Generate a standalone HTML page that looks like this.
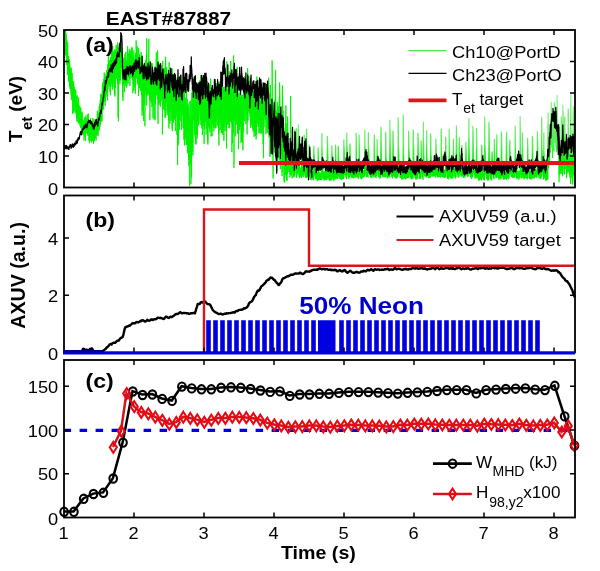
<!DOCTYPE html>
<html lang="en"><head><meta charset="utf-8"><title>EAST#87887</title>
<style>html,body{margin:0;padding:0;background:#fff}svg{display:block}</style></head>
<body>
<svg width="600" height="571" viewBox="0 0 600 571" font-family="'Liberation Sans', Arial, Helvetica, sans-serif" shape-rendering="auto">
<rect width="600" height="571" fill="#fff"/>
<defs>
<clipPath id="ca"><rect x="64.0" y="30.0" width="511.0" height="157.5"/></clipPath>
<clipPath id="cb"><rect x="64.0" y="195.5" width="511.0" height="157.0"/></clipPath>
<clipPath id="cc"><rect x="64.0" y="360.0" width="511.0" height="157.5"/></clipPath>
<linearGradient id="gg" gradientUnits="userSpaceOnUse" x1="0" y1="95" x2="0" y2="165"><stop offset="0" stop-color="#8cf08c"/><stop offset="0.7" stop-color="#50ee50"/><stop offset="1" stop-color="#00f000"/></linearGradient>
</defs>
<g clip-path="url(#ca)" fill="none" stroke-linejoin="round">
<polyline points="64.12,33.95 64.12,15.82 64.38,23.90 64.38,36.58 64.62,46.67 64.62,24.18 64.88,30.98 64.88,54.91 65.12,48.49 65.12,29.21 65.38,31.83 65.38,50.95 65.62,54.45 65.62,27.15 65.88,38.90 65.88,53.28 66.12,56.25 66.12,33.71 66.38,39.19 66.38,65.05 66.62,53.83 66.62,40.01 66.88,39.67 66.88,62.74 67.12,58.98 67.12,45.84 67.38,48.57 67.38,74.95 67.62,66.82 67.62,42.17 67.88,56.02 67.88,70.16 68.12,70.82 68.12,56.00 68.38,58.71 68.38,81.55 68.62,78.91 68.62,56.19 68.88,59.67 68.88,75.46 69.12,79.16 69.12,59.67 69.38,71.83 69.38,83.55 69.62,86.38 69.62,61.04 69.88,69.64 69.88,88.81 70.12,86.58 70.12,67.33 70.38,73.69 70.38,82.14 70.62,89.79 70.62,69.66 70.88,69.50 70.88,90.47 71.12,95.23 71.12,67.60 71.38,76.70 71.38,99.76 71.62,95.91 71.62,83.93 71.88,81.46 71.88,97.08 72.12,98.13 72.12,72.89 72.38,82.02 72.38,99.66 72.62,113.90 72.62,81.62 72.88,81.11 72.88,99.38 73.12,99.38 73.12,86.21 73.38,85.01 73.38,102.94 73.62,113.03 73.62,81.54 73.88,88.45 73.88,103.17 74.12,110.50 74.12,86.83 74.38,88.98 74.38,100.55 74.62,104.19 74.62,89.28 74.88,94.78 74.88,107.90 75.12,112.50 75.12,96.01 75.38,92.70 75.38,109.84 75.62,111.64 75.62,89.73 75.88,92.00 75.88,109.82 76.12,114.25 76.12,96.05 76.38,104.52 76.38,109.57 76.62,118.97 76.62,95.73 76.88,103.56 76.88,121.34 77.12,116.87 77.12,95.47 77.38,102.81 77.38,117.09 77.62,117.94 77.62,103.13 77.88,105.02 77.88,121.85 78.12,118.86 78.12,105.37 78.38,103.96 78.38,123.30 78.62,122.68 78.62,97.46 78.88,106.89 78.88,120.36 79.12,122.24 79.12,114.61 79.38,109.38 79.38,123.67 79.62,119.12 79.62,105.73 79.88,110.11 79.88,121.46 80.12,125.92 80.12,109.50 80.38,114.38 80.38,124.42 80.62,127.70 80.62,107.48 80.88,107.91 80.88,124.17 81.12,127.88 81.12,115.60 81.38,112.70 81.38,135.41 81.62,131.53 81.62,113.53 81.88,121.50 81.88,127.11 82.12,125.53 82.12,111.66 82.38,118.43 82.38,127.10 82.62,129.85 82.62,121.10 82.88,123.46 82.88,134.99 83.12,131.22 83.12,123.48 83.38,121.85 83.38,134.05 83.62,129.27 83.62,122.13 83.88,120.25 83.88,134.80 84.12,140.34 84.12,119.68 84.38,117.26 84.38,133.83 84.62,131.07 84.62,121.55 84.88,121.81 84.88,136.15 85.12,136.33 85.12,124.25 85.38,122.05 85.38,138.75 85.62,141.07 85.62,117.66 85.88,115.81 85.88,129.57 86.12,131.01 86.12,117.80 86.38,119.70 86.38,132.95 86.62,133.31 86.62,119.48 86.88,122.19 86.88,130.50 87.12,129.37 87.12,114.27 87.38,115.40 87.38,131.08 87.62,134.61 87.62,122.20 87.88,122.53 87.88,131.64 88.12,136.03 88.12,120.43 88.38,113.65 88.38,133.09 88.62,131.84 88.62,119.17 88.88,125.95 88.88,140.58 89.12,139.73 89.12,128.86 89.38,120.31 89.38,143.22 89.62,141.26 89.62,128.80 89.88,129.50 89.88,140.19 90.12,134.85 90.12,120.64 90.38,130.30 90.38,136.72 90.62,136.45 90.62,118.21 90.88,122.31 90.88,134.33 91.12,141.51 91.12,122.83 91.38,127.18 91.38,142.33 91.62,138.67 91.62,121.81 91.88,126.76 91.88,141.27 92.12,131.14 92.12,123.80 92.38,128.57 92.38,139.10 92.62,140.92 92.62,123.04 92.88,118.05 92.88,135.76 93.12,139.08 93.12,128.23 93.38,131.25 93.38,143.77 93.62,141.90 93.62,128.30 93.88,125.76 93.88,139.44 94.12,136.59 94.12,119.21 94.38,125.68 94.38,141.27 94.62,137.50 94.62,120.46 94.88,122.44 94.88,137.04 95.12,138.28 95.12,130.57 95.38,125.48 95.38,137.46 95.62,131.71 95.62,119.04 95.88,121.54 95.88,136.85 96.12,140.52 96.12,123.23 96.38,120.75 96.38,131.73 96.62,135.34 96.62,119.54 96.88,119.14 96.88,129.56 97.12,128.45 97.12,123.66 97.38,110.69 97.38,128.99 97.62,135.43 97.62,112.24 97.88,116.29 97.88,123.51 98.12,135.77 98.12,115.97 98.38,114.79 98.38,131.05 98.62,121.70 98.62,113.25 98.88,112.93 98.88,125.17 99.12,122.67 99.12,106.37 99.38,115.22 99.38,128.44 99.62,130.56 99.62,113.09 99.88,103.68 99.88,127.12 100.12,122.38 100.12,100.87 100.38,100.14 100.38,118.43 100.62,124.31 100.62,105.81 100.88,93.79 100.88,116.51 101.12,117.56 101.12,102.03 101.38,94.13 101.38,121.45 101.62,115.80 101.62,95.30 101.88,102.92 101.88,121.59 102.12,119.38 102.12,97.14 102.38,84.86 102.38,110.44 102.62,102.32 102.62,82.49 102.88,92.94 102.88,105.54 103.12,97.59 103.12,88.81 103.38,85.36 103.38,103.30 103.62,109.44 103.62,85.29 103.88,78.91 103.88,101.71 104.12,94.40 104.12,72.70 104.38,72.73 104.38,97.82 104.62,101.19 104.62,81.39 104.88,85.63 104.88,97.18 105.12,105.89 105.12,77.13 105.38,87.17 105.38,101.75 105.62,93.66 105.62,79.92 105.88,74.03 105.88,94.07 106.12,96.67 106.12,76.72 106.38,75.33 106.38,89.54 106.62,94.52 106.62,70.34 106.88,74.08 106.88,94.76 107.12,82.04 107.12,72.22 107.38,75.25 107.38,94.09 107.62,100.39 107.62,71.25 107.88,64.03 107.88,88.58 108.12,89.17 108.12,72.48 108.38,55.03 108.38,84.05 108.62,82.14 108.62,65.05 108.88,62.66 108.88,79.19 109.12,86.08 109.12,61.23 109.38,60.98 109.38,80.51 109.62,85.80 109.62,60.07 109.88,63.18 109.88,84.56 110.12,92.06 110.12,64.60 110.38,70.62 110.38,95.25 110.62,83.20 110.62,57.19 110.88,62.47 110.88,81.84 111.12,84.06 111.12,68.12 111.38,53.45 111.38,82.39 111.62,71.83 111.62,49.78 111.88,51.39 111.88,68.36 112.12,86.57 112.12,61.98 112.38,48.16 112.38,86.78 112.62,89.67 112.62,46.08 112.88,53.88 112.88,78.42 113.12,87.52 113.12,69.72 113.38,55.65 113.38,78.08 113.62,82.29 113.62,57.42 113.88,50.87 113.88,79.53 114.12,74.56 114.12,64.28 114.38,72.59 114.38,83.64 114.62,94.93 114.62,70.80 114.88,49.24 114.88,96.49 115.12,80.97 115.12,65.27 115.38,50.43 115.38,87.83 115.62,81.81 115.62,59.40 115.88,63.07 115.88,77.64 116.12,74.94 116.12,45.38 116.38,60.97 116.38,77.73 116.62,69.85 116.62,51.94 116.88,45.14 116.88,79.09 117.12,75.79 117.12,64.14 117.38,52.12 117.38,81.74 117.62,84.23 117.62,42.44 117.88,57.80 117.88,84.91 118.12,117.49 118.12,81.36 118.38,73.19 118.38,121.38 118.62,90.59 118.62,57.82 118.88,47.15 118.88,69.90 119.12,75.17 119.12,59.01 119.38,55.09 119.38,80.83 119.62,69.62 119.62,46.97 119.88,65.51 119.88,84.27 120.12,74.67 120.12,57.53 120.38,49.91 120.38,68.14 120.62,80.48 120.62,51.12 120.88,44.65 120.88,67.50 121.12,67.78 121.12,51.56 121.38,47.83 121.38,66.10 121.62,61.94 121.62,37.89 121.88,45.56 121.88,68.65 122.12,74.19 122.12,48.34 122.38,55.67 122.38,76.37 122.62,97.16 122.62,74.45 122.88,77.09 122.88,100.90 123.12,85.63 123.12,60.19 123.38,61.52 123.38,77.37 123.62,84.74 123.62,57.71 123.88,59.95 123.88,72.51 124.12,84.18 124.12,66.61 124.38,66.35 124.38,91.02 124.62,92.13 124.62,64.50 124.88,54.30 124.88,80.98 125.12,85.98 125.12,58.42 125.38,61.38 125.38,82.60 125.62,81.98 125.62,52.04 125.88,60.28 125.88,79.81 126.12,83.49 126.12,61.85 126.38,60.38 126.38,76.81 126.62,87.59 126.62,60.68 126.88,60.82 126.88,85.91 127.12,80.61 127.12,52.47 127.38,50.89 127.38,73.04 127.62,76.77 127.62,46.26 127.88,56.39 127.88,74.09 128.12,83.92 128.12,61.90 128.38,61.66 128.38,77.63 128.62,75.65 128.62,53.31 128.88,58.35 128.88,67.62 129.12,71.54 129.12,52.52 129.38,50.28 129.38,78.52 129.62,73.73 129.62,48.99 129.88,60.99 129.88,85.96 130.12,78.83 130.12,54.90 130.38,54.77 130.38,71.20 130.62,75.37 130.62,64.65 130.88,51.30 130.88,72.95 131.12,69.49 131.12,50.47 131.38,48.51 131.38,76.23 131.62,77.81 131.62,55.72 131.88,46.88 131.88,73.04 132.12,67.55 132.12,48.36 132.38,61.64 132.38,79.71 132.62,75.93 132.62,54.36 132.88,76.03 132.88,93.18 133.12,85.98 133.12,69.42 133.38,57.00 133.38,81.65 133.62,84.24 133.62,56.32 133.88,50.47 133.88,90.75 134.12,83.74 134.12,64.99 134.38,65.80 134.38,86.41 134.62,87.41 134.62,60.05 134.88,58.52 134.88,77.38 135.12,85.06 135.12,60.96 135.38,53.15 135.38,93.69 135.62,80.13 135.62,58.82 135.88,54.75 135.88,78.95 136.12,79.06 136.12,40.32 136.38,56.31 136.38,77.21 136.62,77.88 136.62,49.84 136.88,49.74 136.88,75.35 137.12,75.37 137.12,46.26 137.38,49.03 137.38,84.26 137.62,76.33 137.62,57.99 137.88,57.43 137.88,80.47 138.12,84.23 138.12,62.17 138.38,61.21 138.38,96.11 138.62,83.92 138.62,48.30 138.88,57.15 138.88,80.15 139.12,81.60 139.12,60.00 139.38,56.09 139.38,65.26 139.62,88.23 139.62,54.02 139.88,60.80 139.88,86.51 140.12,87.03 140.12,73.49 140.38,57.54 140.38,89.47 140.62,90.88 140.62,69.35 140.88,65.11 140.88,88.90 141.12,88.48 141.12,52.13 141.38,58.98 141.38,94.13 141.62,95.09 141.62,67.91 141.88,55.74 141.88,93.86 142.12,115.58 142.12,84.59 142.38,70.38 142.38,99.18 142.62,110.93 142.62,68.89 142.88,79.89 142.88,104.11 143.12,97.89 143.12,69.53 143.38,64.33 143.38,101.01 143.62,121.08 143.62,90.76 143.88,73.71 143.88,95.97 144.12,96.45 144.12,68.72 144.38,68.89 144.38,92.13 144.62,104.91 144.62,73.59 144.88,86.93 144.88,126.27 145.12,87.76 145.12,76.65 145.38,71.68 145.38,90.72 145.62,89.41 145.62,67.09 145.88,59.88 145.88,85.22 146.12,94.62 146.12,76.80 146.38,54.29 146.38,95.01 146.62,105.42 146.62,38.12 146.88,41.97 146.88,88.31 147.12,92.19 147.12,64.33 147.38,73.12 147.38,85.11 147.62,94.46 147.62,71.77 147.88,74.28 147.88,95.82 148.12,87.10 148.12,73.84 148.38,75.20 148.38,91.31 148.62,94.10 148.62,57.30 148.88,38.90 148.88,70.68 149.12,90.80 149.12,60.72 149.38,62.46 149.38,79.95 149.62,99.60 149.62,77.56 149.88,64.47 149.88,120.34 150.12,91.84 150.12,70.49 150.38,76.95 150.38,96.35 150.62,100.98 150.62,73.36 150.88,72.65 150.88,88.40 151.12,82.94 151.12,72.87 151.38,70.25 151.38,103.23 151.62,98.98 151.62,63.73 151.88,81.60 151.88,107.16 152.12,104.49 152.12,63.20 152.38,67.54 152.38,104.73 152.62,103.27 152.62,84.33 152.88,77.79 152.88,114.81 153.12,118.40 153.12,86.48 153.38,76.80 153.38,96.26 153.62,96.48 153.62,73.45 153.88,79.15 153.88,103.33 154.12,119.17 154.12,78.52 154.38,71.89 154.38,95.97 154.62,101.38 154.62,78.11 154.88,67.49 154.88,100.88 155.12,120.38 155.12,89.14 155.38,81.68 155.38,104.40 155.62,99.38 155.62,80.22 155.88,70.03 155.88,95.39 156.12,95.74 156.12,58.34 156.38,52.36 156.38,93.91 156.62,94.88 156.62,65.78 156.88,66.53 156.88,88.48 157.12,93.77 157.12,60.68 157.38,74.02 157.38,98.96 157.62,92.04 157.62,50.25 157.88,88.39 157.88,110.70 158.12,123.75 158.12,88.16 158.38,61.25 158.38,104.56 158.62,95.50 158.62,75.12 158.88,62.93 158.88,93.83 159.12,96.74 159.12,76.61 159.38,67.96 159.38,103.15 159.62,101.94 159.62,79.04 159.88,69.14 159.88,102.70 160.12,105.53 160.12,78.31 160.38,82.04 160.38,106.78 160.62,97.03 160.62,78.90 160.88,65.07 160.88,94.15 161.12,94.29 161.12,65.63 161.38,71.66 161.38,96.30 161.62,98.30 161.62,66.93 161.88,73.22 161.88,101.16 162.12,94.98 162.12,75.23 162.38,75.63 162.38,134.49 162.62,103.36 162.62,60.93 162.88,80.08 162.88,106.53 163.12,104.56 163.12,80.37 163.38,78.10 163.38,109.39 163.62,96.04 163.62,74.44 163.88,68.89 163.88,95.75 164.12,96.96 164.12,71.19 164.38,74.86 164.38,110.71 164.62,94.63 164.62,68.38 164.88,81.19 164.88,93.25 165.12,118.02 165.12,73.11 165.38,62.83 165.38,117.19 165.62,81.19 165.62,56.90 165.88,74.08 165.88,102.68 166.12,96.87 166.12,79.82 166.38,80.00 166.38,101.92 166.62,91.57 166.62,67.16 166.88,75.22 166.88,99.38 167.12,115.17 167.12,80.44 167.38,85.99 167.38,112.32 167.62,96.55 167.62,74.59 167.88,84.27 167.88,109.13 168.12,110.20 168.12,77.03 168.38,93.92 168.38,120.34 168.62,119.49 168.62,90.41 168.88,88.25 168.88,128.50 169.12,93.50 169.12,62.24 169.38,79.93 169.38,95.61 169.62,111.56 169.62,87.14 169.88,72.22 169.88,123.55 170.12,109.16 170.12,75.95 170.38,92.47 170.38,103.90 170.62,111.60 170.62,80.06 170.88,74.35 170.88,120.99 171.12,113.38 171.12,73.55 171.38,86.40 171.38,103.89 171.62,111.93 171.62,89.85 171.88,81.66 171.88,106.04 172.12,128.51 172.12,68.62 172.38,80.34 172.38,131.13 172.62,113.73 172.62,93.28 172.88,84.12 172.88,114.43 173.12,119.34 173.12,87.87 173.38,90.70 173.38,118.88 173.62,122.95 173.62,75.92 173.88,86.47 173.88,110.92 174.12,106.99 174.12,90.37 174.38,81.74 174.38,119.46 174.62,104.05 174.62,82.61 174.88,85.27 174.88,119.17 175.12,104.38 175.12,85.89 175.38,87.99 175.38,131.01 175.62,115.46 175.62,96.11 175.88,77.27 175.88,115.56 176.12,116.15 176.12,80.54 176.38,85.12 176.38,103.55 176.62,112.65 176.62,85.65 176.88,105.43 176.88,134.74 177.12,121.55 177.12,95.87 177.38,98.34 177.38,143.62 177.62,164.84 177.62,123.29 177.88,113.34 177.88,145.87 178.12,131.86 178.12,107.32 178.38,93.44 178.38,115.81 178.62,143.57 178.62,111.54 178.88,95.34 178.88,122.49 179.12,120.45 179.12,94.86 179.38,91.43 179.38,129.69 179.62,113.47 179.62,86.32 179.88,83.97 179.88,121.71 180.12,106.13 180.12,90.18 180.38,88.82 180.38,102.52 180.62,111.62 180.62,98.11 180.88,83.39 180.88,120.39 181.12,113.27 181.12,79.28 181.38,74.76 181.38,129.77 181.62,114.51 181.62,96.07 181.88,80.75 181.88,111.96 182.12,107.80 182.12,89.42 182.38,91.26 182.38,114.08 182.62,115.03 182.62,92.32 182.88,93.84 182.88,128.10 183.12,127.53 183.12,89.14 183.38,91.96 183.38,114.94 183.62,128.49 183.62,103.42 183.88,89.74 183.88,139.57 184.12,128.65 184.12,90.47 184.38,104.69 184.38,145.45 184.62,138.89 184.62,88.25 184.88,109.38 184.88,118.31 185.12,129.13 185.12,102.85 185.38,97.55 185.38,121.67 185.62,138.77 185.62,108.35 185.88,105.54 185.88,137.79 186.12,144.99 186.12,111.21 186.38,106.56 186.38,138.07 186.62,144.83 186.62,88.87 186.88,110.07 186.88,143.18 187.12,138.69 187.12,98.86 187.38,106.20 187.38,153.24 187.62,140.14 187.62,104.95 187.88,106.17 187.88,142.42 188.12,144.01 188.12,103.62 188.38,116.88 188.38,146.30 188.62,159.69 188.62,107.72 188.88,132.68 188.88,166.14 189.12,147.56 189.12,115.54 189.38,123.94 189.38,180.42 189.62,185.93 189.62,141.43 189.88,101.06 189.88,148.40 190.12,156.87 190.12,119.23 190.38,127.22 190.38,163.75 190.62,147.24 190.62,100.70 190.88,114.89 190.88,184.15 191.12,176.77 191.12,152.30 191.38,117.19 191.38,151.26 191.62,176.85 191.62,135.42 191.88,93.12 191.88,144.51 192.12,132.71 192.12,92.31 192.38,86.63 192.38,151.65 192.62,148.15 192.62,92.68 192.88,110.55 192.88,155.65 193.12,144.40 193.12,103.97 193.38,103.35 193.38,120.53 193.62,120.22 193.62,91.93 193.88,91.69 193.88,115.54 194.12,120.93 194.12,90.01 194.38,99.21 194.38,126.13 194.62,134.18 194.62,109.58 194.88,100.63 194.88,131.00 195.12,136.49 195.12,78.12 195.38,96.29 195.38,143.67 195.62,129.35 195.62,100.31 195.88,109.34 195.88,130.39 196.12,144.62 196.12,101.98 196.38,108.36 196.38,127.33 196.62,134.74 196.62,108.84 196.88,88.22 196.88,121.00 197.12,138.61 197.12,95.68 197.38,94.21 197.38,135.03 197.62,130.29 197.62,99.70 197.88,100.78 197.88,124.27 198.12,115.53 198.12,83.76 198.38,82.66 198.38,125.62 198.62,122.64 198.62,94.09 198.88,91.85 198.88,123.91 199.12,114.16 199.12,88.83 199.38,86.59 199.38,108.29 199.62,107.64 199.62,88.35 199.88,80.47 199.88,109.86 200.12,116.13 200.12,85.16 200.38,92.09 200.38,120.59 200.62,118.02 200.62,75.23 200.88,90.65 200.88,124.91 201.12,117.50 201.12,95.64 201.38,89.24 201.38,113.90 201.62,125.72 201.62,83.68 201.88,83.55 201.88,128.41 202.12,115.63 202.12,96.33 202.38,92.77 202.38,135.06 202.62,130.57 202.62,98.24 202.88,93.02 202.88,116.34 203.12,125.81 203.12,101.65 203.38,85.39 203.38,123.69 203.62,124.09 203.62,98.69 203.88,94.19 203.88,120.64 204.12,143.90 204.12,102.61 204.38,115.23 204.38,129.19 204.62,122.95 204.62,104.72 204.88,91.13 204.88,108.76 205.12,116.21 205.12,102.40 205.38,98.62 205.38,117.61 205.62,121.94 205.62,82.38 205.88,93.94 205.88,118.83 206.12,134.64 206.12,107.96 206.38,84.34 206.38,116.66 206.62,128.42 206.62,91.84 206.88,85.67 206.88,123.28 207.12,121.38 207.12,101.03 207.38,81.10 207.38,121.79 207.62,142.36 207.62,107.01 207.88,105.03 207.88,144.55 208.12,126.00 208.12,99.37 208.38,90.36 208.38,124.18 208.62,125.70 208.62,90.60 208.88,89.66 208.88,127.25 209.12,111.77 209.12,94.98 209.38,95.15 209.38,128.49 209.62,120.51 209.62,100.08 209.88,84.24 209.88,132.16 210.12,114.26 210.12,90.96 210.38,85.46 210.38,119.54 210.62,115.21 210.62,78.54 210.88,87.87 210.88,121.68 211.12,136.54 211.12,107.32 211.38,99.93 211.38,128.29 211.62,106.80 211.62,93.45 211.88,89.20 211.88,127.07 212.12,136.09 212.12,90.11 212.38,95.22 212.38,124.84 212.62,122.48 212.62,97.01 212.88,98.97 212.88,122.11 213.12,119.75 213.12,89.47 213.38,104.43 213.38,127.26 213.62,124.75 213.62,95.93 213.88,105.23 213.88,131.25 214.12,121.77 214.12,102.64 214.38,99.81 214.38,127.43 214.62,112.26 214.62,100.53 214.88,96.19 214.88,121.97 215.12,114.77 215.12,90.39 215.38,93.52 215.38,119.38 215.62,128.39 215.62,94.76 215.88,104.08 215.88,127.65 216.12,123.13 216.12,92.20 216.38,94.95 216.38,113.84 216.62,117.49 216.62,93.07 216.88,82.99 216.88,125.67 217.12,121.50 217.12,92.20 217.38,86.38 217.38,108.95 217.62,117.25 217.62,93.15 217.88,88.57 217.88,116.82 218.12,125.66 218.12,93.25 218.38,96.42 218.38,118.38 218.62,133.75 218.62,98.83 218.88,114.05 218.88,145.35 219.12,114.58 219.12,89.24 219.38,82.43 219.38,115.77 219.62,110.75 219.62,86.29 219.88,83.23 219.88,129.90 220.12,118.23 220.12,81.18 220.38,97.37 220.38,122.10 220.62,122.56 220.62,100.51 220.88,98.81 220.88,116.24 221.12,130.25 221.12,101.38 221.38,88.52 221.38,133.11 221.62,123.88 221.62,98.48 221.88,86.19 221.88,128.14 222.12,132.00 222.12,82.82 222.38,92.25 222.38,132.93 222.62,115.47 222.62,90.19 222.88,96.94 222.88,134.94 223.12,130.88 223.12,88.60 223.38,99.37 223.38,127.87 223.62,123.28 223.62,87.10 223.88,105.38 223.88,140.87 224.12,121.99 224.12,86.73 224.38,90.66 224.38,126.49 224.62,123.48 224.62,104.87 224.88,90.51 224.88,130.67 225.12,124.63 225.12,91.31 225.38,90.65 225.38,106.71 225.62,121.19 225.62,85.35 225.88,86.19 225.88,121.46 226.12,131.38 226.12,114.79 226.38,100.14 226.38,119.34 226.62,148.55 226.62,86.57 226.88,61.34 226.88,114.60 227.12,125.02 227.12,95.65 227.38,90.85 227.38,123.59 227.62,124.40 227.62,102.25 227.88,88.73 227.88,113.46 228.12,123.61 228.12,93.43 228.38,80.70 228.38,117.36 228.62,120.53 228.62,99.98 228.88,97.11 228.88,128.06 229.12,119.39 229.12,94.49 229.38,71.44 229.38,104.75 229.62,128.23 229.62,93.53 229.88,96.98 229.88,119.28 230.12,119.81 230.12,94.29 230.38,93.72 230.38,121.94 230.62,116.39 230.62,61.03 230.88,62.74 230.88,110.82 231.12,118.11 231.12,91.98 231.38,87.09 231.38,106.74 231.62,123.81 231.62,79.71 231.88,87.26 231.88,152.16 232.12,137.72 232.12,119.38 232.38,103.67 232.38,143.22 232.62,113.33 232.62,85.24 232.88,95.10 232.88,128.49 233.12,115.07 233.12,80.17 233.38,93.59 233.38,133.33 233.62,87.15 233.62,55.50 233.88,87.80 233.88,167.92 234.12,159.78 234.12,130.93 234.38,92.04 234.38,120.53 234.62,110.68 234.62,89.12 234.88,71.41 234.88,108.78 235.12,107.23 235.12,95.36 235.38,94.73 235.38,136.32 235.62,110.59 235.62,84.83 235.88,86.62 235.88,125.05 236.12,107.15 236.12,94.88 236.38,88.84 236.38,115.83 236.62,109.79 236.62,91.64 236.88,85.36 236.88,123.58 237.12,96.49 237.12,66.82 237.38,90.84 237.38,133.92 237.62,119.19 237.62,88.50 237.88,90.28 237.88,133.31 238.12,114.63 238.12,95.39 238.38,101.66 238.38,149.20 238.62,131.70 238.62,101.32 238.88,92.67 238.88,126.45 239.12,114.70 239.12,102.73 239.38,104.01 239.38,127.30 239.62,130.13 239.62,104.74 239.88,94.28 239.88,123.40 240.12,126.77 240.12,97.76 240.38,89.73 240.38,123.93 240.62,117.71 240.62,98.43 240.88,97.60 240.88,126.27 241.12,142.72 241.12,101.76 241.38,121.41 241.38,141.89 241.62,121.17 241.62,94.77 241.88,96.12 241.88,122.70 242.12,125.60 242.12,94.94 242.38,97.32 242.38,135.27 242.62,142.39 242.62,123.52 242.88,109.14 242.88,150.32 243.12,130.22 243.12,104.53 243.38,94.20 243.38,131.23 243.62,117.98 243.62,85.62 243.88,97.81 243.88,121.35 244.12,118.11 244.12,97.14 244.38,80.43 244.38,108.87 244.62,109.12 244.62,83.31 244.88,76.05 244.88,121.14 245.12,110.98 245.12,87.18 245.38,87.77 245.38,113.26 245.62,105.77 245.62,80.62 245.88,90.47 245.88,124.15 246.12,111.51 246.12,86.71 246.38,89.60 246.38,112.52 246.62,113.29 246.62,86.80 246.88,86.58 246.88,111.28 247.12,134.33 247.12,93.15 247.38,86.31 247.38,120.36 247.62,121.62 247.62,68.01 247.88,93.40 247.88,120.58 248.12,113.67 248.12,91.60 248.38,79.03 248.38,111.87 248.62,105.82 248.62,89.76 248.88,76.00 248.88,112.02 249.12,105.84 249.12,88.09 249.38,83.01 249.38,113.13 249.62,111.78 249.62,80.94 249.88,88.27 249.88,114.72 250.12,116.81 250.12,99.28 250.38,84.15 250.38,118.01 250.62,127.95 250.62,95.20 250.88,91.14 250.88,121.06 251.12,114.86 251.12,92.72 251.38,96.48 251.38,124.77 251.62,117.19 251.62,95.39 251.88,90.09 251.88,125.43 252.12,126.56 252.12,86.30 252.38,92.91 252.38,111.91 252.62,128.44 252.62,89.42 252.88,100.65 252.88,123.11 253.12,131.40 253.12,92.64 253.38,91.02 253.38,130.02 253.62,117.48 253.62,92.13 253.88,100.05 253.88,122.78 254.12,136.82 254.12,102.13 254.38,104.07 254.38,128.41 254.62,129.48 254.62,103.25 254.88,103.82 254.88,132.34 255.12,126.25 255.12,104.06 255.38,96.04 255.38,136.03 255.62,121.29 255.62,88.57 255.88,91.06 255.88,121.21 256.12,139.42 256.12,89.98 256.38,91.44 256.38,126.80 256.62,134.62 256.62,88.14 256.88,76.60 256.88,119.10 257.12,121.31 257.12,100.88 257.38,87.69 257.38,117.79 257.62,123.25 257.62,92.09 257.88,101.07 257.88,113.76 258.12,126.87 258.12,90.53 258.38,100.20 258.38,124.19 258.62,124.58 258.62,93.96 258.88,86.21 258.88,133.21 259.12,120.37 259.12,104.77 259.38,92.99 259.38,123.52 259.62,116.24 259.62,102.04 259.88,88.86 259.88,132.48 260.12,126.41 260.12,106.43 260.38,107.13 260.38,133.62 260.62,128.28 260.62,105.30 260.88,100.56 260.88,117.81 261.12,110.95 261.12,87.44 261.38,108.87 261.38,132.17 261.62,129.47 261.62,96.34 261.88,104.19 261.88,133.81 262.12,128.30 262.12,93.45 262.38,93.47 262.38,120.04 262.62,119.02 262.62,98.05 262.88,105.41 262.88,124.98 263.12,144.25 263.12,97.20 263.38,112.47 263.38,158.21 263.62,137.51 263.62,104.98 263.88,100.91 263.88,122.19 264.12,126.78 264.12,101.05 264.38,90.45 264.38,111.40 264.62,117.42 264.62,88.95 264.88,94.78 264.88,115.59 265.12,116.26 265.12,88.29 265.38,94.43 265.38,111.55 265.62,119.94 265.62,101.31 265.88,101.07 265.88,134.19 266.12,129.89 266.12,91.48 266.38,87.20 266.38,127.76 266.62,127.11 266.62,89.33 266.88,88.68 266.88,125.17 267.12,132.34 267.12,91.54 267.38,96.00 267.38,125.26 267.62,121.21 267.62,87.21 267.88,101.88 267.88,130.19 268.12,133.15 268.12,94.98 268.38,86.53 268.38,114.49 268.62,115.22 268.62,77.69 268.88,105.36 268.88,135.76 269.12,137.50 269.12,93.68 269.38,113.88 269.38,133.17 269.62,123.30 269.62,98.66 269.88,94.27 269.88,156.86 270.12,137.88 270.12,101.09 270.38,84.92 270.38,134.63 270.62,141.92 270.62,105.99 270.88,107.22 270.88,154.99 271.12,142.00 271.12,116.02 271.38,106.49 271.38,144.13 271.62,134.11 271.62,108.07 271.88,106.06 271.88,128.05 272.12,114.56 272.12,60.54 272.38,105.28 272.38,140.67 272.62,153.89 272.62,117.98 272.88,137.11 272.88,158.35 273.12,178.42 273.12,123.79 273.38,107.38 273.38,148.69 273.62,148.49 273.62,112.38 273.88,104.90 273.88,145.73 274.12,151.58 274.12,101.34 274.38,109.09 274.38,149.97 274.62,131.41 274.62,114.49 274.88,100.12 274.88,140.17 275.12,152.74 275.12,111.26 275.38,83.67 275.38,137.41 275.62,129.10 275.62,69.95 275.88,117.19 275.88,159.47 276.12,148.29 276.12,119.80 276.38,110.71 276.38,165.13 276.62,155.70 276.62,123.40 276.88,115.03 276.88,171.17 277.12,146.32 277.12,112.34 277.38,102.06 277.38,157.21 277.62,143.53 277.62,117.39 277.88,108.66 277.88,140.59 278.12,156.51 278.12,121.39 278.38,106.16 278.38,147.08 278.62,130.13 278.62,116.82 278.88,116.89 278.88,151.13 279.12,160.61 279.12,106.95 279.38,96.44 279.38,144.75 279.62,148.44 279.62,82.44 279.88,100.78 279.88,132.02 280.12,148.86 280.12,128.72 280.38,132.83 280.38,169.17 280.62,155.11 280.62,127.72 280.88,114.78 280.88,156.60 281.12,161.45 281.12,114.50 281.38,133.83 281.38,153.44 281.62,155.19 281.62,134.55 281.88,137.78 281.88,156.44 282.12,176.13 282.12,134.27 282.38,85.62 282.38,172.02 282.62,137.81 282.62,96.78 282.88,113.36 282.88,144.93 283.12,147.87 283.12,110.73 283.38,141.89 283.38,165.26 283.62,155.17 283.62,123.73 283.88,139.47 283.88,173.25 284.12,181.90 284.12,140.27 284.38,147.41 284.38,172.68 284.62,182.67 284.62,146.49 284.88,138.04 284.88,177.51 285.12,173.55 285.12,141.90 285.38,151.35 285.38,169.23 285.62,174.20 285.62,125.81 285.88,105.41 285.88,136.88 286.12,154.26 286.12,123.37 286.38,143.09 286.38,171.66 286.62,180.29 286.62,135.05 286.88,145.96 286.88,176.14 287.12,180.63 287.12,156.15 287.38,116.55 287.38,174.13 287.62,156.81 287.62,117.30 287.88,142.73 287.88,167.19 288.12,165.09 288.12,149.61 288.38,151.89 288.38,170.04 288.62,170.22 288.62,154.53 288.88,152.51 288.88,172.11 289.12,167.39 289.12,151.65 289.38,159.84 289.38,171.98 289.62,171.86 289.62,156.21 289.88,158.21 289.88,177.38 290.12,175.86 290.12,164.42 290.38,167.24 290.38,174.47 290.62,153.41 290.62,95.95 290.88,126.14 290.88,145.42 291.12,168.59 291.12,147.99 291.38,157.29 291.38,168.73 291.62,175.52 291.62,163.67 291.88,165.10 291.88,176.15 292.12,178.23 292.12,163.78 292.38,130.27 292.38,149.29 292.62,160.71 292.62,138.51 292.88,156.37 292.88,168.66 293.12,173.88 293.12,159.67 293.38,167.01 293.38,177.09 293.62,172.86 293.62,165.81 293.88,168.17 293.88,177.47 294.12,173.75 294.12,167.45 294.38,164.02 294.38,176.17 294.62,173.36 294.62,167.77 294.88,131.97 294.88,172.61 295.12,146.12" stroke="#00f000" stroke-width="0.9"/>
<polyline points="295.12,146.12 295.12,129.11 295.38,147.78 295.38,162.52 295.62,170.53 295.62,160.16 295.88,163.92 295.88,171.86 296.12,176.55 296.12,166.10 296.38,136.19 296.38,177.53 296.62,148.22 296.62,128.64 296.88,146.24 296.88,158.93 297.12,164.89 297.12,155.32 297.38,162.04 297.38,169.93 297.62,173.52 297.62,163.12 297.88,164.32 297.88,171.88 298.12,175.63 298.12,166.04 298.38,125.01 298.38,168.99 298.62,153.22 298.62,137.71 298.88,158.48 298.88,168.62 299.12,172.39 299.12,164.25 299.38,165.95 299.38,173.04 299.62,177.70 299.62,166.24 299.88,168.80 299.88,173.95 300.12,175.18 300.12,169.26 300.38,168.33 300.38,176.44 300.62,174.59 300.62,171.58 300.88,169.23 300.88,176.78 301.12,175.52 301.12,169.81 301.38,170.29 301.38,171.35 301.62,177.43 301.62,160.89 301.88,142.28 301.88,155.35 302.12,166.27 302.12,152.97 302.38,163.08 302.38,172.63 302.62,174.35 302.62,166.15 302.88,169.18 302.88,175.23 303.12,176.33 303.12,168.64 303.38,169.94 303.38,176.55 303.62,176.40 303.62,170.29 303.88,158.51 303.88,175.68 304.12,143.74 304.12,135.08 304.38,138.62 304.38,162.70 304.62,171.30 304.62,161.35 304.88,167.59 304.88,171.73 305.12,173.81 305.12,168.12 305.38,168.73 305.38,176.83 305.62,177.44 305.62,171.81 305.88,172.44 305.88,177.51 306.12,177.09 306.12,170.83 306.38,136.17 306.38,177.70 306.62,150.37 306.62,129.19 306.88,151.01 306.88,164.84 307.12,173.32 307.12,162.74 307.38,166.49 307.38,173.86 307.62,176.85 307.62,170.38 307.88,169.88 307.88,176.31 308.12,177.04 308.12,171.90 308.38,170.45 308.38,175.96 308.62,176.56 308.62,171.54 308.88,170.22 308.88,176.22 309.12,166.57 309.12,144.71 309.38,151.26 309.38,164.88 309.62,171.62 309.62,163.63 309.88,167.27 309.88,175.16 310.12,177.16 310.12,171.56 310.38,173.65 310.38,179.13 310.62,176.72 310.62,170.81 310.88,172.83 310.88,176.79 311.12,178.60 311.12,171.63 311.38,170.96 311.38,178.01 311.62,176.85 311.62,173.27 311.88,172.06 311.88,179.89 312.12,178.96 312.12,172.60 312.38,172.55 312.38,177.81 312.62,177.43 312.62,172.55 312.88,172.82 312.88,177.65 313.12,175.10 313.12,171.19 313.38,172.88 313.38,178.26 313.62,179.96 313.62,153.97 313.88,146.17 313.88,156.10 314.12,164.16 314.12,154.09 314.38,161.78 314.38,169.42 314.62,173.85 314.62,167.84 314.88,169.99 314.88,175.46 315.12,176.85 315.12,170.05 315.38,171.25 315.38,178.66 315.62,177.66 315.62,172.68 315.88,171.92 315.88,178.40 316.12,178.62 316.12,171.90 316.38,172.49 316.38,177.42 316.62,178.78 316.62,171.93 316.88,172.61 316.88,177.48 317.12,179.99 317.12,174.74 317.38,173.34 317.38,179.45 317.62,179.93 317.62,172.80 317.88,173.52 317.88,180.39 318.12,169.62 318.12,147.87 318.38,157.83 318.38,166.64 318.62,174.18 318.62,165.24 318.88,171.84 318.88,175.54 319.12,179.79 319.12,172.57 319.38,172.56 319.38,179.55 319.62,178.16 319.62,173.24 319.88,175.73 319.88,179.52 320.12,178.96 320.12,174.24 320.38,173.60 320.38,177.63 320.62,176.82 320.62,172.99 320.88,174.88 320.88,179.54 321.12,178.79 321.12,172.50 321.38,175.41 321.38,179.51 321.62,179.63 321.62,173.23 321.88,133.22 321.88,170.37 322.12,157.56 322.12,148.46 322.38,161.27 322.38,168.02 322.62,176.01 322.62,168.81 322.88,168.30 322.88,176.62 323.12,178.59 323.12,171.26 323.38,171.97 323.38,176.98 323.62,178.68 323.62,172.10 323.88,172.37 323.88,179.23 324.12,180.17 324.12,171.71 324.38,171.75 324.38,179.08 324.62,180.08 324.62,172.43 324.88,173.78 324.88,179.23 325.12,178.81 325.12,171.09 325.38,172.53 325.38,178.34 325.62,177.78 325.62,174.54 325.88,171.47 325.88,178.99 326.12,179.75 326.12,172.69 326.38,172.44 326.38,179.67 326.62,178.59 326.62,171.31 326.88,171.80 326.88,179.56 327.12,175.50 327.12,172.01 327.38,136.29 327.38,177.74 327.62,153.59 327.62,140.05 327.88,156.83 327.88,169.48 328.12,172.99 328.12,166.44 328.38,169.37 328.38,177.32 328.62,178.79 328.62,170.73 328.88,172.24 328.88,177.84 329.12,179.49 329.12,173.27 329.38,175.03 329.38,180.22 329.62,180.39 329.62,172.78 329.88,173.37 329.88,179.85 330.12,180.19 330.12,172.31 330.38,173.95 330.38,179.48 330.62,180.29 330.62,174.44 330.88,174.15 330.88,179.82 331.12,179.29 331.12,173.97 331.38,172.54 331.38,179.46 331.62,179.20 331.62,173.32 331.88,145.71 331.88,179.92 332.12,164.45 332.12,153.41 332.38,162.67 332.38,167.81 332.62,174.65 332.62,166.75 332.88,170.77 332.88,176.41 333.12,177.70 333.12,171.12 333.38,171.85 333.38,178.58 333.62,179.74 333.62,174.54 333.88,171.69 333.88,180.84 334.12,177.88 334.12,171.79 334.38,172.03 334.38,177.31 334.62,177.90 334.62,171.78 334.88,171.71 334.88,176.31 335.12,179.04 335.12,170.55 335.38,167.47 335.38,178.46 335.62,159.42 335.62,145.12 335.88,157.84 335.88,169.84 336.12,175.12 336.12,166.69 336.38,172.81 336.38,177.19 336.62,177.98 336.62,172.32 336.88,172.75 336.88,178.50 337.12,177.81 337.12,171.77 337.38,171.61 337.38,178.13 337.62,177.91 337.62,172.11 337.88,173.17 337.88,178.42 338.12,172.93 338.12,146.65 338.38,146.39 338.38,161.85 338.62,168.35 338.62,157.71 338.88,168.36 338.88,173.78 339.12,176.03 339.12,168.70 339.38,172.11 339.38,178.22 339.62,178.24 339.62,171.88 339.88,172.39 339.88,178.16 340.12,177.98 340.12,171.81 340.38,171.36 340.38,178.82 340.62,177.78 340.62,172.07 340.88,171.44 340.88,177.59 341.12,177.98 341.12,171.45 341.38,173.45 341.38,179.58 341.62,176.65 341.62,172.21 341.88,171.91 341.88,178.41 342.12,178.09 342.12,172.49 342.38,172.58 342.38,178.60 342.62,177.53 342.62,170.69 342.88,172.10 342.88,179.01 343.12,177.14 343.12,171.79 343.38,171.87 343.38,175.44 343.62,178.51 343.62,171.88 343.88,139.92 343.88,177.19 344.12,155.18 344.12,146.92 344.38,153.35 344.38,163.07 344.62,168.53 344.62,162.69 344.88,167.14 344.88,171.53 345.12,174.55 345.12,168.59 345.38,168.35 345.38,174.76 345.62,174.63 345.62,168.97 345.88,172.19 345.88,176.20 346.12,177.75 346.12,169.95 346.38,170.95 346.38,178.09 346.62,178.85 346.62,154.95 346.88,133.04 346.88,146.42 347.12,159.41 347.12,145.77 347.38,157.20 347.38,166.28 347.62,173.13 347.62,166.12 347.88,167.38 347.88,174.88 348.12,175.37 348.12,170.86 348.38,172.13 348.38,175.40 348.62,178.37 348.62,170.66 348.88,173.71 348.88,175.45 349.12,177.57 349.12,170.62 349.38,170.42 349.38,177.39 349.62,176.42 349.62,170.75 349.88,144.54 349.88,176.91 350.12,154.57 350.12,143.92 350.38,157.84 350.38,167.91 350.62,171.82 350.62,164.29 350.88,166.09 350.88,174.92 351.12,174.07 351.12,168.18 351.38,171.00 351.38,177.25 351.62,175.62 351.62,169.60 351.88,169.93 351.88,177.19 352.12,176.12 352.12,170.52 352.38,172.79 352.38,177.70 352.62,175.98 352.62,169.43 352.88,169.42 352.88,175.78 353.12,175.25 353.12,170.82 353.38,169.93 353.38,177.94 353.62,175.74 353.62,168.88 353.88,170.33 353.88,175.45 354.12,176.75 354.12,170.66 354.38,170.16 354.38,177.20 354.62,177.14 354.62,170.83 354.88,171.04 354.88,176.43 355.12,176.85 355.12,172.12 355.38,170.15 355.38,176.18 355.62,177.24 355.62,170.52 355.88,170.35 355.88,177.36 356.12,159.76 356.12,133.12 356.38,147.14 356.38,164.27 356.62,167.61 356.62,162.43 356.88,165.73 356.88,171.35 357.12,176.46 357.12,168.33 357.38,169.64 357.38,176.10 357.62,177.39 357.62,170.72 357.88,172.30 357.88,176.36 358.12,176.53 358.12,173.26 358.38,170.88 358.38,174.59 358.62,178.33 358.62,170.51 358.88,166.16 358.88,176.60 359.12,151.35 359.12,135.03 359.38,146.21 359.38,159.48 359.62,170.66 359.62,159.79 359.88,168.55 359.88,172.13 360.12,174.97 360.12,168.38 360.38,167.65 360.38,175.58 360.62,178.17 360.62,172.32 360.88,170.47 360.88,176.57 361.12,178.11 361.12,170.95 361.38,169.09 361.38,177.41 361.62,178.69 361.62,172.42 361.88,170.50 361.88,176.08 362.12,177.29 362.12,173.41 362.38,172.33 362.38,177.60 362.62,177.62 362.62,173.26 362.88,172.48 362.88,176.77 363.12,176.63 363.12,170.59 363.38,170.32 363.38,175.82 363.62,176.09 363.62,170.56 363.88,172.08 363.88,176.63 364.12,176.75 364.12,169.66 364.38,169.70 364.38,176.20 364.62,175.44 364.62,169.66 364.88,130.16 364.88,164.16 365.12,166.55 365.12,146.00 365.38,162.52 365.38,169.72 365.62,173.01 365.62,165.51 365.88,170.78 365.88,174.56 366.12,174.82 366.12,171.49 366.38,169.36 366.38,176.53 366.62,176.24 366.62,171.60 366.88,171.33 366.88,176.19 367.12,172.91 367.12,170.02 367.38,169.57 367.38,175.12 367.62,176.61 367.62,169.11 367.88,169.94 367.88,176.70 368.12,177.14 368.12,170.75 368.38,132.51 368.38,163.36 368.62,156.29 368.62,147.45 368.88,154.53 368.88,165.27 369.12,169.40 369.12,160.34 369.38,164.07 369.38,173.60 369.62,173.01 369.62,167.84 369.88,168.17 369.88,174.62 370.12,175.83 370.12,170.49 370.38,170.59 370.38,176.23 370.62,176.57 370.62,169.78 370.88,169.72 370.88,177.56 371.12,177.18 371.12,170.03 371.38,169.87 371.38,177.24 371.62,176.92 371.62,171.55 371.88,169.93 371.88,176.75 372.12,177.54 372.12,170.11 372.38,169.29 372.38,175.44 372.62,175.76 372.62,169.49 372.88,170.29 372.88,174.61 373.12,175.68 373.12,170.54 373.38,169.28 373.38,173.74 373.62,176.01 373.62,169.38 373.88,169.69 373.88,176.66 374.12,176.97 374.12,142.98 374.38,134.78 374.38,155.31 374.62,166.23 374.62,155.97 374.88,164.58 374.88,170.72 375.12,174.15 375.12,167.62 375.38,169.65 375.38,176.72 375.62,176.52 375.62,170.41 375.88,169.91 375.88,177.51 376.12,177.43 376.12,169.53 376.38,170.91 376.38,175.58 376.62,175.64 376.62,171.01 376.88,156.43 376.88,171.76 377.12,152.19 377.12,139.29 377.38,155.66 377.38,162.61 377.62,169.02 377.62,162.50 377.88,167.59 377.88,172.59 378.12,174.73 378.12,169.48 378.38,169.09 378.38,175.15 378.62,176.83 378.62,169.29 378.88,170.81 378.88,175.44 379.12,175.09 379.12,171.68 379.38,170.20 379.38,173.97 379.62,176.77 379.62,170.59 379.88,170.49 379.88,178.23 380.12,178.03 380.12,170.14 380.38,170.76 380.38,177.65 380.62,177.65 380.62,170.19 380.88,126.95 380.88,171.86 381.12,150.46 381.12,127.95 381.38,153.80 381.38,167.50 381.62,170.47 381.62,165.15 381.88,167.50 381.88,175.25 382.12,174.37 382.12,168.77 382.38,170.52 382.38,175.45 382.62,176.09 382.62,171.76 382.88,171.90 382.88,175.91 383.12,176.96 383.12,170.10 383.38,169.62 383.38,176.66 383.62,175.42 383.62,172.61 383.88,170.11 383.88,175.59 384.12,176.67 384.12,169.16 384.38,170.21 384.38,176.25 384.62,176.06 384.62,169.62 384.88,169.64 384.88,176.59 385.12,176.13 385.12,169.84 385.38,170.35 385.38,176.97 385.62,175.98 385.62,132.04 385.88,134.83 385.88,149.23 386.12,166.21 386.12,157.26 386.38,165.57 386.38,171.07 386.62,173.72 386.62,167.67 386.88,171.79 386.88,177.15 387.12,177.19 387.12,170.23 387.38,170.13 387.38,177.69 387.62,177.94 387.62,171.25 387.88,170.43 387.88,177.05 388.12,177.25 388.12,172.53 388.38,169.70 388.38,176.50 388.62,176.66 388.62,170.82 388.88,171.88 388.88,176.45 389.12,175.37 389.12,169.27 389.38,170.33 389.38,175.70 389.62,177.17 389.62,169.68 389.88,120.00 389.88,157.71 390.12,149.00 390.12,130.17 390.38,151.85 390.38,164.89 390.62,167.24 390.62,159.19 390.88,164.50 390.88,171.03 391.12,174.34 391.12,167.31 391.38,169.04 391.38,175.79 391.62,176.32 391.62,171.45 391.88,170.66 391.88,176.79 392.12,176.40 392.12,170.43 392.38,172.95 392.38,178.10 392.62,177.30 392.62,170.63 392.88,131.80 392.88,176.52 393.12,152.15 393.12,130.86 393.38,149.07 393.38,162.53 393.62,168.99 393.62,159.54 393.88,166.60 393.88,174.47 394.12,176.07 394.12,167.74 394.38,170.19 394.38,175.52 394.62,176.27 394.62,170.41 394.88,171.07 394.88,177.37 395.12,174.43 395.12,170.85 395.38,170.68 395.38,174.14 395.62,177.74 395.62,172.01 395.88,171.21 395.88,178.06 396.12,176.36 396.12,171.63 396.38,171.34 396.38,178.26 396.62,175.73 396.62,171.21 396.88,170.35 396.88,177.05 397.12,176.61 397.12,170.68 397.38,170.58 397.38,177.24 397.62,176.69 397.62,170.35 397.88,170.13 397.88,176.73 398.12,174.50 398.12,117.48 398.38,125.02 398.38,152.12 398.62,156.73 398.62,148.29 398.88,155.26 398.88,164.29 399.12,168.33 399.12,160.44 399.38,166.20 399.38,171.00 399.62,173.51 399.62,165.96 399.88,170.06 399.88,174.07 400.12,177.36 400.12,168.19 400.38,172.14 400.38,176.56 400.62,176.73 400.62,169.75 400.88,170.11 400.88,177.49 401.12,177.25 401.12,170.87 401.38,171.80 401.38,176.33 401.62,179.06 401.62,172.57 401.88,170.66 401.88,178.51 402.12,178.75 402.12,174.48 402.38,171.51 402.38,178.50 402.62,177.59 402.62,171.66 402.88,172.94 402.88,178.57 403.12,179.05 403.12,114.53 403.38,117.44 403.38,148.45 403.62,166.35 403.62,153.96 403.88,164.33 403.88,172.93 404.12,174.60 404.12,169.70 404.38,171.47 404.38,177.11 404.62,178.27 404.62,172.05 404.88,171.91 404.88,177.45 405.12,178.43 405.12,172.16 405.38,172.84 405.38,178.89 405.62,178.75 405.62,176.41 405.88,172.86 405.88,178.58 406.12,177.91 406.12,172.20 406.38,170.39 406.38,177.72 406.62,177.56 406.62,172.44 406.88,170.70 406.88,177.82 407.12,177.37 407.12,170.32 407.38,172.51 407.38,177.73 407.62,177.15 407.62,171.96 407.88,171.58 407.88,176.29 408.12,176.97 408.12,171.28 408.38,172.45 408.38,177.69 408.62,176.43 408.62,131.12 408.88,137.97 408.88,151.96 409.12,163.59 409.12,149.25 409.38,161.08 409.38,169.68 409.62,173.95 409.62,168.34 409.88,168.35 409.88,175.02 410.12,176.98 410.12,170.23 410.38,168.56 410.38,175.94 410.62,176.88 410.62,171.95 410.88,171.85 410.88,177.30 411.12,178.91 411.12,172.38 411.38,171.02 411.38,177.86 411.62,178.23 411.62,171.64 411.88,173.01 411.88,178.19 412.12,178.57 412.12,172.12 412.38,171.86 412.38,177.90 412.62,177.64 412.62,171.62 412.88,171.12 412.88,178.22 413.12,178.37 413.12,129.85 413.38,132.60 413.38,147.57 413.62,160.68 413.62,144.05 413.88,159.85 413.88,167.28 414.12,173.90 414.12,164.21 414.38,167.58 414.38,174.23 414.62,175.26 414.62,170.74 414.88,170.15 414.88,175.63 415.12,177.49 415.12,172.64 415.38,170.57 415.38,175.39 415.62,178.84 415.62,171.50 415.88,170.82 415.88,174.69 416.12,176.05 416.12,171.16 416.38,170.55 416.38,177.14 416.62,178.97 416.62,171.78 416.88,173.19 416.88,176.75 417.12,177.90 417.12,171.23 417.38,172.86 417.38,177.66 417.62,178.42 417.62,172.97 417.88,132.84 417.88,173.92 418.12,150.17 418.12,133.81 418.38,151.60 418.38,164.48 418.62,171.57 418.62,163.00 418.88,167.50 418.88,173.00 419.12,173.96 419.12,170.56 419.38,170.93 419.38,177.43 419.62,178.59 419.62,172.77 419.88,171.85 419.88,177.59 420.12,177.61 420.12,173.31 420.38,174.75 420.38,177.92 420.62,177.59 420.62,173.04 420.88,172.09 420.88,178.44 421.12,163.41 421.12,140.78 421.38,148.79 421.38,163.35 421.62,166.62 421.62,162.56 421.88,167.29 421.88,172.21 422.12,173.33 422.12,169.29 422.38,170.31 422.38,176.00 422.62,177.94 422.62,171.08 422.88,171.81 422.88,177.80 423.12,179.44 423.12,160.38 423.38,122.36 423.38,155.46 423.62,154.80 423.62,142.18 423.88,157.82 423.88,164.49 424.12,170.00 424.12,162.46 424.38,168.96 424.38,174.75 424.62,175.47 424.62,171.95 424.88,169.88 424.88,175.73 425.12,174.89 425.12,171.05 425.38,169.78 425.38,176.15 425.62,176.30 425.62,170.97 425.88,171.37 425.88,176.77 426.12,176.76 426.12,170.83 426.38,160.51 426.38,176.92 426.62,146.20 426.62,130.63 426.88,149.41 426.88,160.87 427.12,167.90 427.12,158.55 427.38,164.05 427.38,170.13 427.62,175.08 427.62,169.57 427.88,168.34 427.88,175.90 428.12,177.40 428.12,170.16 428.38,170.58 428.38,174.90 428.62,176.87 428.62,173.76 428.88,169.76 428.88,177.65 429.12,176.56 429.12,170.80 429.38,169.75 429.38,176.50 429.62,176.30 429.62,170.17 429.88,169.84 429.88,177.27 430.12,177.76 430.12,170.52 430.38,170.65 430.38,175.69 430.62,176.42 430.62,133.94 430.88,136.26 430.88,157.13 431.12,162.51 431.12,155.55 431.38,163.69 431.38,170.51 431.62,173.79 431.62,167.69 431.88,168.98 431.88,175.35 432.12,176.06 432.12,170.24 432.38,169.66 432.38,175.98 432.62,173.83 432.62,169.25 432.88,171.44 432.88,175.78 433.12,175.89 433.12,169.87 433.38,170.59 433.38,175.28 433.62,174.97 433.62,170.43 433.88,170.58 433.88,175.83 434.12,175.80 434.12,171.14 434.38,168.90 434.38,174.80 434.62,175.61 434.62,169.04 434.88,168.53 434.88,175.66 435.12,177.08 435.12,169.89 435.38,170.17 435.38,175.21 435.62,175.88 435.62,170.39 435.88,138.94 435.88,172.25 436.12,166.35 436.12,145.02 436.38,161.16 436.38,171.28 436.62,174.67 436.62,165.72 436.88,168.70 436.88,173.66 437.12,176.44 437.12,170.33 437.38,170.10 437.38,177.04 437.62,177.01 437.62,169.46 437.88,171.08 437.88,176.69 438.12,176.52 438.12,170.60 438.38,170.51 438.38,175.54 438.62,176.68 438.62,172.18 438.88,170.53 438.88,176.40 439.12,175.53 439.12,170.59 439.38,170.17 439.38,176.41 439.62,174.75 439.62,171.06 439.88,169.68 439.88,175.51 440.12,176.34 440.12,173.41 440.38,170.09 440.38,177.10 440.62,177.27 440.62,171.81 440.88,172.30 440.88,176.46 441.12,176.76 441.12,129.72 441.38,129.23 441.38,149.68 441.62,167.34 441.62,154.72 441.88,163.71 441.88,170.71 442.12,174.18 442.12,168.48 442.38,169.08 442.38,175.52 442.62,176.71 442.62,170.52 442.88,170.37 442.88,177.00 443.12,176.48 443.12,171.11 443.38,171.00 443.38,176.44 443.62,176.77 443.62,170.59 443.88,170.55 443.88,175.29 444.12,177.32 444.12,170.93 444.38,169.78 444.38,176.63 444.62,177.74 444.62,172.18 444.88,171.79 444.88,177.19 445.12,177.33 445.12,172.90 445.38,171.65 445.38,177.01 445.62,164.90 445.62,136.97 445.88,144.71 445.88,160.46 446.12,164.71 446.12,155.89 446.38,163.10 446.38,170.84 446.62,172.82 446.62,167.59 446.88,169.48 446.88,173.26 447.12,176.72 447.12,172.21 447.38,172.76 447.38,178.44 447.62,176.23 447.62,171.22 447.88,171.19 447.88,177.61 448.12,175.90 448.12,172.25 448.38,171.35 448.38,177.83 448.62,178.99 448.62,171.84 448.88,161.87 448.88,176.84 449.12,151.98 449.12,129.10 449.38,147.03 449.38,161.93 449.62,172.25 449.62,163.99 449.88,167.92 449.88,175.35 450.12,177.13 450.12,169.91 450.38,171.38 450.38,177.76 450.62,177.00 450.62,171.17 450.88,171.76 450.88,175.95 451.12,177.72 451.12,172.08 451.38,172.27 451.38,178.48 451.62,177.05 451.62,171.89 451.88,171.32 451.88,176.82 452.12,176.78 452.12,171.45 452.38,170.52 452.38,177.93 452.62,177.32 452.62,173.13 452.88,171.94 452.88,177.93 453.12,176.47 453.12,163.55 453.38,138.97 453.38,156.05 453.62,162.24 453.62,153.36 453.88,162.62 453.88,169.89 454.12,171.85 454.12,168.04 454.38,168.35 454.38,175.29 454.62,176.37 454.62,169.67 454.88,170.62 454.88,177.14 455.12,177.26 455.12,170.63 455.38,171.04 455.38,176.82 455.62,178.09 455.62,171.42 455.88,171.58 455.88,176.86 456.12,176.14 456.12,164.49 456.38,125.78 456.38,146.58 456.62,158.53 456.62,137.85 456.88,155.78 456.88,164.71 457.12,171.85 457.12,166.16 457.38,167.72 457.38,172.03 457.62,174.42 457.62,168.22 457.88,170.42 457.88,176.80 458.12,177.36 458.12,169.84 458.38,169.89 458.38,175.39 458.62,176.59 458.62,172.11 458.88,170.30 458.88,176.28 459.12,176.47 459.12,145.32 459.38,137.63 459.38,153.89 459.62,164.74 459.62,152.75 459.88,162.13 459.88,170.40 460.12,172.28 460.12,164.07 460.38,167.84 460.38,174.00 460.62,174.29 460.62,167.11 460.88,169.46 460.88,175.62 461.12,174.95 461.12,169.53 461.38,169.23 461.38,172.63 461.62,176.24 461.62,146.84 461.88,145.62 461.88,157.80 462.12,168.89 462.12,158.20 462.38,164.63 462.38,170.67 462.62,175.27 462.62,166.85 462.88,168.39 462.88,175.04 463.12,177.42 463.12,169.66 463.38,169.18 463.38,176.09 463.62,177.16 463.62,170.22 463.88,173.11 463.88,177.06 464.12,175.61 464.12,169.45 464.38,170.00 464.38,176.89 464.62,175.75 464.62,170.05 464.88,169.74 464.88,177.20 465.12,175.19 465.12,170.40 465.38,169.91 465.38,175.36 465.62,175.65 465.62,169.98 465.88,142.24 465.88,175.40 466.12,159.24 466.12,147.69 466.38,162.75 466.38,168.26 466.62,170.47 466.62,164.50 466.88,166.88 466.88,172.30 467.12,171.91 467.12,168.16 467.38,169.23 467.38,176.72 467.62,175.20 467.62,169.32 467.88,169.63 467.88,175.41 468.12,176.13 468.12,169.10 468.38,169.62 468.38,175.03 468.62,175.59 468.62,157.95 468.88,118.48 468.88,149.10 469.12,160.63 469.12,138.31 469.38,158.56 469.38,168.98 469.62,172.91 469.62,165.63 469.88,169.34 469.88,174.21 470.12,173.79 470.12,170.05 470.38,171.02 470.38,176.67 470.62,176.25 470.62,170.06 470.88,170.61 470.88,174.55 471.12,175.74 471.12,170.07 471.38,172.01 471.38,178.72 471.62,177.15 471.62,170.87 471.88,170.93 471.88,176.90 472.12,177.13 472.12,172.35 472.38,170.22 472.38,176.43 472.62,176.36 472.62,169.35 472.88,126.30 472.88,174.88 473.12,145.11 473.12,130.68 473.38,145.29 473.38,159.60 473.62,164.29 473.62,158.87 473.88,164.72 473.88,171.93 474.12,172.44 474.12,167.35 474.38,168.85 474.38,173.58 474.62,174.84 474.62,170.40 474.88,172.10 474.88,176.37 475.12,178.28 475.12,171.91 475.38,171.29 475.38,176.50 475.62,174.95 475.62,170.45 475.88,172.77 475.88,177.56 476.12,178.09 476.12,173.14 476.38,148.91 476.38,177.39 476.62,144.96 476.62,128.21 476.88,150.83 476.88,164.39 477.12,172.70 477.12,161.16 477.38,168.52 477.38,171.78 477.62,176.88 477.62,169.86 477.88,171.60 477.88,178.20 478.12,178.93 478.12,171.76 478.38,172.86 478.38,177.74 478.62,180.33 478.62,174.14 478.88,172.76 478.88,178.19 479.12,178.95 479.12,173.25 479.38,173.95 479.38,178.78 479.62,179.89 479.62,173.66 479.88,173.04 479.88,178.39 480.12,177.77 480.12,172.91 480.38,172.91 480.38,178.55 480.62,179.30 480.62,175.52 480.88,172.32 480.88,177.24 481.12,179.29 481.12,173.56 481.38,174.10 481.38,179.87 481.62,175.31 481.62,145.05 481.88,146.58 481.88,161.41 482.12,167.90 482.12,156.71 482.38,165.37 482.38,173.95 482.62,176.49 482.62,167.95 482.88,171.66 482.88,178.23 483.12,178.27 483.12,174.51 483.38,175.36 483.38,178.63 483.62,179.67 483.62,173.70 483.88,173.89 483.88,177.48 484.12,179.06 484.12,174.23 484.38,172.16 484.38,180.22 484.62,173.02 484.62,117.15 484.88,125.52 484.88,144.60 485.12,155.25 485.12,145.80 485.38,154.01 485.38,168.52 485.62,172.26 485.62,163.55 485.88,168.66 485.88,173.87 486.12,175.09 486.12,169.52 486.38,171.24 486.38,177.21 486.62,178.30 486.62,172.55 486.88,173.38 486.88,177.78 487.12,179.45 487.12,174.23 487.38,172.36 487.38,177.99 487.62,179.03 487.62,173.63 487.88,172.67 487.88,180.43 488.12,179.26 488.12,172.96 488.38,173.08 488.38,177.91 488.62,179.97 488.62,173.05 488.88,123.73 488.88,178.79 489.12,144.61 489.12,122.07 489.38,138.82 489.38,158.52 489.62,165.03 489.62,158.40 489.88,165.79 489.88,175.20 490.12,175.24 490.12,169.64 490.38,173.13 490.38,176.75 490.62,178.60 490.62,173.08 490.88,173.71 490.88,178.35 491.12,179.89 491.12,174.19 491.38,174.21 491.38,180.04 491.62,179.46 491.62,173.79 491.88,152.96 491.88,172.58 492.12,163.69 492.12,151.81 492.38,162.13 492.38,167.72 492.62,173.81 492.62,166.12 492.88,168.23 492.88,172.68 493.12,175.48 493.12,169.76 493.38,170.13 493.38,176.37 493.62,177.83 493.62,172.50 493.88,171.37 493.88,175.22 494.12,178.98 494.12,155.63 494.38,139.44 494.38,151.65 494.62,163.81 494.62,152.31 494.88,161.95 494.88,171.28 495.12,172.50 495.12,164.25 495.38,168.32 495.38,174.03 495.62,176.08 495.62,169.92 495.88,169.94 495.88,177.66 496.12,177.31 496.12,172.40 496.38,172.50 496.38,177.76 496.62,176.49 496.62,143.39 496.88,134.68 496.88,155.46 497.12,168.49 497.12,156.98 497.38,166.41 497.38,172.35 497.62,175.89 497.62,170.86 497.88,172.91 497.88,177.46 498.12,177.04 498.12,171.63 498.38,171.17 498.38,175.39 498.62,176.16 498.62,171.45 498.88,171.62 498.88,179.43 499.12,175.57 499.12,170.35 499.38,171.27 499.38,177.61 499.62,178.13 499.62,172.02 499.88,172.49 499.88,178.08 500.12,177.67 500.12,171.97 500.38,172.80 500.38,177.86 500.62,178.13 500.62,174.43 500.88,171.71 500.88,179.26 501.12,177.64 501.12,172.61 501.38,131.83 501.38,176.26 501.62,156.39 501.62,133.01 501.88,160.29 501.88,165.76 502.12,173.20 502.12,165.35 502.38,170.10 502.38,176.00 502.62,175.59 502.62,172.58 502.88,172.21 502.88,178.27 503.12,176.53 503.12,173.15 503.38,172.14 503.38,179.21 503.62,179.14 503.62,171.74 503.88,172.08 503.88,178.72 504.12,178.30 504.12,171.70 504.38,172.03 504.38,178.54 504.62,179.03 504.62,174.47 504.88,172.42 504.88,177.02 505.12,177.13 505.12,172.39 505.38,175.17 505.38,178.46 505.62,178.43 505.62,172.92 505.88,171.52 505.88,177.69 506.12,177.53 506.12,171.47 506.38,135.36 506.38,179.51 506.62,160.32 506.62,131.97 506.88,157.23 506.88,168.16 507.12,174.58 507.12,166.85 507.38,170.49 507.38,176.62 507.62,178.06 507.62,172.48 507.88,171.95 507.88,178.09 508.12,178.17 508.12,170.98 508.38,170.91 508.38,176.65 508.62,179.00 508.62,171.72 508.88,171.12 508.88,177.44 509.12,177.97 509.12,171.10 509.38,170.95 509.38,174.43 509.62,174.22 509.62,146.09 509.88,140.16 509.88,152.14 510.12,167.64 510.12,150.79 510.38,159.00 510.38,169.87 510.62,172.39 510.62,165.76 510.88,168.37 510.88,173.40 511.12,175.50 511.12,169.11 511.38,169.33 511.38,176.45 511.62,176.69 511.62,171.63 511.88,170.73 511.88,175.94 512.12,176.02 512.12,172.26 512.38,170.68 512.38,176.11 512.62,177.33 512.62,170.54 512.88,170.56 512.88,177.17 513.12,176.37 513.12,171.83 513.38,171.31 513.38,176.83 513.62,175.66 513.62,170.31 513.88,169.93 513.88,177.33 514.12,177.09 514.12,171.97 514.38,173.59 514.38,176.71 514.62,177.17 514.62,171.74 514.88,166.29 514.88,177.27 515.12,155.44 515.12,126.12 515.38,142.10 515.38,157.16 515.62,166.01 515.62,153.92 515.88,163.67 515.88,169.20 516.12,173.54 516.12,168.14 516.38,170.16 516.38,175.87 516.62,177.78 516.62,171.31 516.88,173.16 516.88,178.80 517.12,177.40 517.12,171.77 517.38,172.66 517.38,177.51 517.62,177.73 517.62,171.05 517.88,172.13 517.88,177.74 518.12,177.84 518.12,170.85 518.38,171.52 518.38,177.01 518.62,176.39 518.62,173.55 518.88,171.50 518.88,179.43 519.12,177.50 519.12,171.24 519.38,171.64 519.38,176.26 519.62,177.67 519.62,171.87 519.88,171.31 519.88,177.67 520.12,172.61 520.12,116.53 520.38,140.08 520.38,158.59 520.62,165.28 520.62,155.92 520.88,164.72 520.88,172.44 521.12,174.56 521.12,171.76 521.38,170.93 521.38,177.53 521.62,176.82 521.62,172.24 521.88,171.86 521.88,178.15 522.12,177.34 522.12,173.02 522.38,132.87 522.38,175.69 522.62,161.40 522.62,148.42 522.88,163.10 522.88,169.48 523.12,174.79 523.12,168.75 523.38,169.92 523.38,177.05 523.62,177.93 523.62,171.54 523.88,173.81 523.88,178.79 524.12,179.13 524.12,175.68 524.38,172.69 524.38,175.15 524.62,176.86 524.62,171.21 524.88,172.42 524.88,177.39 525.12,177.30 525.12,170.90 525.38,172.06 525.38,177.53 525.62,176.55 525.62,171.77 525.88,171.36 525.88,177.01 526.12,177.58 526.12,171.56 526.38,171.26 526.38,176.87 526.62,177.50 526.62,171.39 526.88,172.35 526.88,178.61 527.12,177.27 527.12,171.46 527.38,165.17 527.38,178.96 527.62,154.39 527.62,138.42 527.88,148.51 527.88,162.26 528.12,166.77 528.12,164.34 528.38,168.07 528.38,172.20 528.62,173.69 528.62,168.77 528.88,170.63 528.88,176.76 529.12,177.93 529.12,171.38 529.38,172.26 529.38,177.15 529.62,177.55 529.62,172.01 529.88,173.01 529.88,178.54 530.12,178.21 530.12,172.75 530.38,171.83 530.38,178.11 530.62,178.83 530.62,173.10 530.88,172.19 530.88,177.95 531.12,179.36 531.12,171.07 531.38,171.36 531.38,176.25 531.62,178.14 531.62,171.41 531.88,171.47 531.88,175.15 532.12,177.95 532.12,172.45 532.38,136.33 532.38,178.32 532.62,154.43 532.62,138.92 532.88,158.42 532.88,167.85 533.12,172.72 533.12,166.36 533.38,170.61 533.38,176.31 533.62,178.00 533.62,172.77 533.88,172.26 533.88,177.84 534.12,176.50 534.12,171.25 534.38,171.80 534.38,178.06 534.62,177.37 534.62,170.97 534.88,171.10 534.88,176.03 535.12,176.37 535.12,170.78 535.38,169.61 535.38,176.30 535.62,176.65 535.62,170.06 535.88,170.00 535.88,177.04 536.12,176.49 536.12,170.58 536.38,170.37 536.38,176.91 536.62,177.36 536.62,170.44 536.88,171.12 536.88,176.25 537.12,176.58 537.12,172.82 537.38,131.21 537.38,174.15 537.62,151.80 537.62,137.78 537.88,153.12 537.88,165.23 538.12,171.69 538.12,165.95 538.38,169.16 538.38,174.49 538.62,175.76 538.62,169.40 538.88,171.94 538.88,177.66 539.12,177.60 539.12,172.23 539.38,171.64 539.38,177.77 539.62,176.10 539.62,171.84 539.88,171.65 539.88,178.08 540.12,177.91 540.12,171.85 540.38,171.90 540.38,177.85 540.62,177.67 540.62,172.47 540.88,171.61 540.88,178.95 541.12,177.51 541.12,174.00 541.38,161.03 541.38,176.87 541.62,137.39 541.62,117.31 541.88,127.34 541.88,149.03 542.12,163.21 542.12,150.09 542.38,159.81 542.38,165.18 542.62,172.72 542.62,164.37 542.88,168.39 542.88,174.37 543.12,175.97 543.12,169.55 543.38,171.46 543.38,179.23 543.62,178.64 543.62,166.43 543.88,132.75 543.88,148.96 544.12,165.20 544.12,153.66 544.38,164.61 544.38,173.94 544.62,176.94 544.62,170.61 544.88,171.72 544.88,177.62 545.12,178.16 545.12,173.29 545.38,172.99 545.38,178.92 545.62,176.55 545.62,173.88 545.88,173.64 545.88,180.64 546.12,180.22 546.12,172.71 546.38,174.38 546.38,178.26 546.62,179.24 546.62,173.82 546.88,172.72 546.88,178.33 547.12,179.03 547.12,173.13 547.38,170.13 547.38,176.40 547.62,179.47 547.62,169.85 547.88,124.96 547.88,178.87 548.12,143.52 548.12,112.93 548.38,141.23 548.38,158.25 548.62,167.80 548.62,152.01 548.88,150.43 548.88,164.95 549.12,163.86 549.12,148.95 549.38,142.51 549.38,160.79 549.62,158.56 549.62,137.82 549.88,132.64 549.88,151.55 550.12,143.36 550.12,133.08 550.38,124.42 550.38,152.55 550.62,141.29 550.62,123.14 550.88,113.57 550.88,131.27 551.12,144.92 551.12,112.59 551.38,102.35 551.38,136.84 551.62,138.11 551.62,123.99 551.88,119.64 551.88,147.26 552.12,142.72 552.12,120.74 552.38,124.09 552.38,149.36 552.62,157.44 552.62,117.47 552.88,125.90 552.88,143.80 553.12,150.01 553.12,121.22 553.38,111.15 553.38,144.45 553.62,135.46 553.62,123.19 553.88,112.99 553.88,151.12 554.12,139.40 554.12,113.73 554.38,103.27 554.38,138.69 554.62,130.56 554.62,102.40 554.88,105.85 554.88,129.65 555.12,134.16 555.12,116.44 555.38,115.97 555.38,142.37 555.62,135.04 555.62,121.86 555.88,113.32 555.88,146.99 556.12,144.60 556.12,122.80 556.38,127.73 556.38,151.64 556.62,140.74 556.62,113.19 556.88,117.45 556.88,148.99 557.12,136.39 557.12,95.34 557.38,114.07 557.38,122.39 557.62,135.76 557.62,120.39 557.88,125.84 557.88,148.56 558.12,149.54 558.12,132.42 558.38,142.73 558.38,154.26 558.62,157.18 558.62,136.05 558.88,153.38 558.88,172.32 559.12,181.89 559.12,137.25 559.38,153.56 559.38,175.09 559.62,166.63 559.62,142.18 559.88,157.13 559.88,170.73 560.12,173.19 560.12,155.07 560.38,148.54 560.38,173.11 560.62,170.17 560.62,155.48 560.88,158.52 560.88,173.18 561.12,173.51 561.12,131.05 561.38,116.72 561.38,142.03 561.62,156.49 561.62,143.11 561.88,143.06 561.88,159.77 562.12,169.93 562.12,152.08 562.38,157.08 562.38,172.67 562.62,175.97 562.62,161.85 562.88,105.24 562.88,150.20 563.12,138.20 563.12,111.02 563.38,131.97 563.38,152.41 563.62,161.80 563.62,138.81 563.88,147.75 563.88,165.79 564.12,172.53 564.12,153.44 564.38,157.85 564.38,173.95 564.62,168.59 564.62,118.39 564.88,116.78 564.88,133.66 565.12,148.40 565.12,133.71 565.38,143.05 565.38,159.02 565.62,165.29 565.62,147.06 565.88,149.46 565.88,168.45 566.12,167.71 566.12,157.06 566.38,160.67 566.38,166.76 566.62,177.62 566.62,162.96 566.88,154.87 566.88,173.17 567.12,173.20 567.12,156.51 567.38,155.50 567.38,170.26 567.62,171.84 567.62,158.16 567.88,155.58 567.88,171.29 568.12,164.53 568.12,109.04 568.38,109.15 568.38,131.44 568.62,163.88 568.62,143.09 568.88,149.72 568.88,166.42 569.12,172.81 569.12,148.93 569.38,155.70 569.38,173.95 569.62,171.77 569.62,154.91 569.88,155.56 569.88,177.27 570.12,172.48 570.12,154.34 570.38,160.54 570.38,174.20 570.62,183.53 570.62,108.38 570.88,94.59 570.88,139.24 571.12,154.44 571.12,130.16 571.38,150.52 571.38,163.46 571.62,171.86 571.62,148.50 571.88,157.90 571.88,177.56 572.12,173.87 572.12,161.34 572.38,159.49 572.38,172.87 572.62,184.29 572.62,154.28 572.88,156.72 572.88,181.36 573.12,170.97 573.12,120.82 573.38,106.76 573.38,135.64 573.62,166.85 573.62,137.50 573.88,152.21 573.88,167.33 574.12,174.82 574.12,155.76 574.38,154.58 574.38,170.52 574.62,176.16 574.62,157.84 574.88,155.32 574.88,175.76" stroke="url(#gg)" stroke-width="1.15"/>
<polyline points="64.0,145.9 64.1,148.8 64.3,147.5 64.4,147.5 64.6,145.6 64.7,147.1 64.8,147.7 65.0,148.3 65.1,147.3 65.3,145.9 65.4,146.9 65.5,147.8 65.7,147.7 65.8,146.2 66.0,147.3 66.1,148.8 66.2,148.7 66.4,147.7 66.5,145.4 66.7,146.1 66.8,147.3 66.9,147.8 67.1,148.0 67.2,148.2 67.4,147.2 67.5,147.5 67.6,147.6 67.8,146.9 67.9,148.4 68.1,149.0 68.2,148.8 68.3,148.4 68.5,147.0 68.6,147.4 68.8,147.7 68.9,149.4 69.0,148.7 69.2,147.2 69.3,147.2 69.5,145.9 69.6,147.3 69.7,145.8 69.9,145.9 70.0,145.1 70.2,145.5 70.3,144.5 70.4,144.6 70.6,144.8 70.7,146.1 70.9,146.8 71.0,146.1 71.1,148.4 71.3,147.0 71.4,146.1 71.6,145.1 71.7,145.9 71.8,146.9 72.0,147.0 72.1,145.3 72.3,144.6 72.4,143.8 72.5,144.3 72.7,144.6 72.8,146.0 73.0,145.7 73.1,146.6 73.2,146.5 73.4,147.3 73.5,147.0 73.7,144.5 73.8,144.9 73.9,145.8 74.1,145.3 74.2,144.3 74.4,143.2 74.5,146.0 74.6,145.6 74.8,144.2 74.9,143.5 75.1,144.3 75.2,144.6 75.3,144.7 75.5,144.2 75.6,143.1 75.8,143.1 75.9,141.2 76.0,141.9 76.2,143.3 76.3,143.0 76.5,141.9 76.6,143.7 76.7,140.6 76.9,141.5 77.0,143.5 77.2,141.2 77.3,139.5 77.4,142.4 77.6,139.8 77.7,140.0 77.9,139.1 78.0,139.0 78.1,137.9 78.3,137.9 78.4,140.0 78.6,139.8 78.7,139.7 78.8,138.5 79.0,138.3 79.1,137.1 79.3,137.6 79.4,138.7 79.5,137.1 79.7,135.6 79.8,135.4 80.0,133.8 80.1,133.8 80.2,132.9 80.4,132.3 80.5,134.0 80.7,131.3 80.8,132.5 80.9,132.3 81.1,134.5 81.2,134.1 81.4,134.6 81.5,133.8 81.6,134.1 81.8,132.8 81.9,131.7 82.1,130.1 82.2,132.0 82.3,130.1 82.5,128.9 82.6,129.3 82.8,129.4 82.9,129.2 83.0,128.7 83.2,129.7 83.3,129.1 83.5,127.0 83.6,128.3 83.7,128.4 83.9,126.7 84.0,127.6 84.2,125.7 84.3,126.6 84.4,127.4 84.6,128.6 84.7,126.6 84.9,127.2 85.0,127.5 85.1,127.0 85.3,125.7 85.4,124.8 85.6,124.1 85.7,124.2 85.8,127.0 86.0,124.4 86.1,125.2 86.3,125.0 86.4,126.4 86.5,127.5 86.7,127.5 86.8,127.8 87.0,127.1 87.1,126.1 87.2,126.3 87.4,122.2 87.5,122.5 87.7,124.1 87.8,123.0 87.9,122.1 88.1,122.2 88.2,122.4 88.4,121.7 88.5,121.0 88.6,120.5 88.8,120.6 88.9,120.4 89.1,121.3 89.2,121.7 89.3,122.6 89.5,121.8 89.6,121.3 89.8,121.1 89.9,120.7 90.0,120.4 90.2,121.3 90.3,122.4 90.5,123.7 90.6,121.1 90.7,120.8 90.9,121.7 91.0,122.3 91.2,123.6 91.3,122.4 91.4,122.7 91.6,121.9 91.7,122.1 91.9,123.2 92.0,125.0 92.1,124.9 92.3,125.0 92.4,125.7 92.6,126.5 92.7,123.7 92.8,125.4 93.0,124.5 93.1,126.6 93.3,127.2 93.4,128.9 93.5,127.9 93.7,126.4 93.8,127.4 94.0,127.7 94.1,129.0 94.2,128.0 94.4,125.3 94.5,122.7 94.7,124.1 94.8,125.0 94.9,126.2 95.1,126.1 95.2,122.8 95.4,122.6 95.5,123.2 95.6,120.8 95.8,120.6 95.9,120.8 96.1,120.1 96.2,120.9 96.3,119.5 96.5,119.4 96.6,122.8 96.8,122.7 96.9,124.6 97.0,122.8 97.2,122.4 97.3,123.3 97.5,124.1 97.6,123.1 97.7,122.4 97.9,126.1 98.0,121.8 98.2,122.7 98.3,121.8 98.4,119.4 98.6,118.7 98.7,119.9 98.9,120.3 99.0,120.2 99.1,117.2 99.3,117.5 99.4,119.4 99.6,117.1 99.7,115.1 99.8,116.8 100.0,115.2 100.1,112.8 100.3,112.3 100.4,112.6 100.5,110.6 100.7,111.0 100.8,111.9 101.0,111.0 101.1,113.3 101.2,111.7 101.4,110.4 101.5,108.0 101.7,108.9 101.8,104.1 101.9,104.4 102.1,102.9 102.2,103.8 102.4,105.1 102.5,103.6 102.6,102.6 102.8,101.8 102.9,100.9 103.1,99.3 103.2,98.7 103.3,98.5 103.5,95.7 103.6,97.7 103.8,95.3 103.9,91.6 104.0,93.3 104.2,91.6 104.3,90.5 104.5,88.5 104.6,86.6 104.7,88.0 104.9,90.6 105.0,88.2 105.2,85.7 105.3,83.2 105.4,80.4 105.6,83.0 105.7,83.4 105.9,83.3 106.0,84.0 106.1,83.0 106.3,83.2 106.4,81.4 106.6,81.1 106.7,78.3 106.8,77.1 107.0,77.3 107.1,78.3 107.3,76.5 107.4,76.8 107.5,76.1 107.7,76.5 107.8,76.0 108.0,74.0 108.1,72.8 108.2,74.8 108.4,74.5 108.5,76.9 108.7,73.5 108.8,72.3 108.9,72.3 109.1,70.2 109.2,71.1 109.4,69.4 109.5,69.9 109.6,69.2 109.8,69.7 109.9,68.8 110.1,70.5 110.2,68.6 110.3,68.5 110.5,69.7 110.6,71.6 110.8,69.7 110.9,67.9 111.0,69.7 111.2,64.9 111.3,69.0 111.5,71.1 111.6,68.4 111.7,68.9 111.9,69.1 112.0,70.0 112.2,70.0 112.3,72.5 112.4,69.4 112.6,65.4 112.7,63.4 112.9,63.9 113.0,64.7 113.1,65.4 113.3,68.6 113.4,66.6 113.6,63.1 113.7,63.4 113.8,64.4 114.0,64.8 114.1,66.4 114.3,62.2 114.4,61.1 114.5,61.5 114.7,61.0 114.8,65.4 115.0,64.4 115.1,65.2 115.2,60.4 115.4,60.1 115.5,59.0 115.7,60.9 115.8,61.0 115.9,60.6 116.1,63.5 116.2,59.1 116.4,60.0 116.5,62.6 116.6,60.5 116.8,55.5 116.9,57.5 117.1,57.5 117.2,57.1 117.3,53.3 117.5,54.4 117.6,52.2 117.8,56.6 117.9,54.4 118.0,53.9 118.2,56.6 118.3,56.1 118.5,55.2 118.6,56.5 118.7,53.7 118.9,53.8 119.0,56.8 119.2,56.2 119.3,52.0 119.4,44.6 119.6,44.1 119.7,44.8 119.9,43.1 120.0,42.9 120.1,50.0 120.3,51.8 120.4,44.5 120.6,41.3 120.7,40.2 120.8,32.6 121.0,34.0 121.1,34.5 121.3,33.3 121.4,35.6 121.5,35.8 121.7,35.4 121.8,40.0 122.0,42.3 122.1,50.2 122.2,56.4 122.4,57.4 122.5,66.9 122.7,71.6 122.8,75.6 122.9,74.4 123.1,77.6 123.2,79.0 123.4,71.4 123.5,74.1 123.6,71.6 123.8,71.2 123.9,70.0 124.1,72.5 124.2,73.3 124.3,74.3 124.5,73.5 124.6,74.4 124.8,79.5 124.9,78.2 125.0,75.8 125.2,69.4 125.3,71.3 125.5,73.4 125.6,72.1 125.7,68.8 125.9,71.8 126.0,79.8 126.2,70.3 126.3,72.0 126.4,73.9 126.6,71.1 126.7,72.5 126.9,68.8 127.0,67.3 127.1,66.3 127.3,69.3 127.4,73.8 127.6,73.7 127.7,67.2 127.8,67.6 128.0,69.6 128.1,73.9 128.3,73.7 128.4,74.1 128.5,74.9 128.7,73.6 128.8,67.7 129.0,68.7 129.1,69.1 129.2,66.5 129.4,69.0 129.5,69.8 129.7,70.6 129.8,65.9 129.9,68.5 130.1,68.4 130.2,69.3 130.4,73.0 130.5,73.5 130.6,65.9 130.8,65.9 130.9,67.1 131.1,72.1 131.2,69.5 131.3,70.9 131.5,72.4 131.6,68.5 131.8,71.6 131.9,72.6 132.0,69.5 132.2,67.3 132.3,68.0 132.5,66.0 132.6,76.2 132.7,72.4 132.9,71.2 133.0,71.5 133.2,71.3 133.3,73.8 133.4,72.4 133.6,71.6 133.7,67.5 133.9,63.6 134.0,65.6 134.1,68.9 134.3,68.0 134.4,65.7 134.6,71.2 134.7,67.3 134.8,69.1 135.0,63.0 135.1,63.7 135.3,60.6 135.4,64.5 135.5,65.6 135.7,61.7 135.8,63.9 136.0,59.6 136.1,60.1 136.2,69.4 136.4,68.5 136.5,68.9 136.7,65.7 136.8,63.7 136.9,65.0 137.1,66.6 137.2,65.1 137.4,61.2 137.5,61.1 137.6,61.8 137.8,60.9 137.9,60.9 138.1,62.7 138.2,68.3 138.3,68.0 138.5,64.2 138.6,65.0 138.8,63.9 138.9,65.5 139.0,61.2 139.2,63.1 139.3,57.5 139.5,61.8 139.6,65.3 139.7,66.0 139.9,69.6 140.0,73.6 140.2,71.4 140.3,70.1 140.4,71.5 140.6,70.2 140.7,68.2 140.9,71.7 141.0,72.3 141.1,69.2 141.3,66.8 141.4,71.7 141.6,71.6 141.7,71.6 141.8,64.0 142.0,65.8 142.1,56.1 142.3,63.8 142.4,69.5 142.5,68.5 142.7,65.7 142.8,70.7 143.0,73.2 143.1,74.2 143.2,78.8 143.4,72.1 143.5,71.8 143.7,72.4 143.8,69.4 143.9,69.9 144.1,65.3 144.2,68.5 144.4,63.4 144.5,71.7 144.6,70.0 144.8,73.7 144.9,78.3 145.1,70.0 145.2,67.7 145.3,75.7 145.5,68.8 145.6,72.8 145.8,69.1 145.9,66.3 146.0,66.9 146.2,75.1 146.3,75.2 146.5,70.8 146.6,74.9 146.7,79.9 146.9,77.9 147.0,72.0 147.2,67.6 147.3,73.0 147.4,78.7 147.6,76.0 147.7,69.0 147.9,71.5 148.0,63.1 148.1,66.4 148.3,69.3 148.4,72.2 148.6,72.7 148.7,78.8 148.8,69.1 149.0,73.8 149.1,74.2 149.3,72.0 149.4,71.4 149.5,76.3 149.7,66.1 149.8,69.6 150.0,74.4 150.1,71.3 150.2,63.6 150.4,63.6 150.5,62.0 150.7,70.4 150.8,80.7 150.9,84.1 151.1,78.3 151.2,84.2 151.4,78.4 151.5,83.9 151.6,82.5 151.8,82.7 151.9,76.7 152.1,79.5 152.2,75.6 152.3,73.2 152.5,67.2 152.6,73.0 152.8,69.6 152.9,71.9 153.0,76.1 153.2,78.8 153.3,79.2 153.5,84.2 153.6,80.4 153.7,75.9 153.9,79.8 154.0,78.2 154.2,72.7 154.3,75.5 154.4,77.0 154.6,80.6 154.7,73.3 154.9,75.0 155.0,67.6 155.1,67.1 155.3,70.5 155.4,78.5 155.6,75.7 155.7,72.9 155.8,77.1 156.0,82.5 156.1,83.8 156.3,81.3 156.4,68.5 156.5,69.3 156.7,73.7 156.8,85.0 157.0,73.9 157.1,78.3 157.2,78.6 157.4,79.7 157.5,71.3 157.7,70.0 157.8,75.8 157.9,62.4 158.1,65.6 158.2,70.1 158.4,64.9 158.5,72.7 158.6,78.6 158.8,73.8 158.9,70.7 159.1,77.6 159.2,80.4 159.3,75.5 159.5,65.1 159.6,73.3 159.8,70.3 159.9,67.5 160.0,68.6 160.2,78.2 160.3,89.1 160.5,81.8 160.6,63.7 160.7,70.9 160.9,76.3 161.0,72.2 161.2,72.5 161.3,77.1 161.4,84.7 161.6,84.7 161.7,87.1 161.9,79.2 162.0,83.7 162.1,77.9 162.3,73.6 162.4,75.9 162.6,74.4 162.7,70.0 162.8,72.6 163.0,68.9 163.1,74.1 163.3,74.4 163.4,80.0 163.5,77.4 163.7,78.9 163.8,84.1 164.0,84.2 164.1,85.0 164.2,81.6 164.4,86.0 164.5,87.0 164.7,98.0 164.8,87.5 164.9,91.8 165.1,87.4 165.2,81.6 165.4,78.2 165.5,74.8 165.6,78.4 165.8,81.8 165.9,77.4 166.1,81.6 166.2,83.6 166.3,82.0 166.5,81.6 166.6,80.4 166.8,79.9 166.9,77.7 167.0,75.9 167.2,74.0 167.3,89.1 167.5,91.1 167.6,92.0 167.7,79.2 167.9,79.1 168.0,86.1 168.2,90.0 168.3,89.2 168.4,87.7 168.6,75.3 168.7,70.3 168.9,79.6 169.0,74.9 169.1,75.3 169.3,81.5 169.4,83.7 169.6,92.5 169.7,92.7 169.8,81.3 170.0,84.8 170.1,76.0 170.3,73.6 170.4,81.3 170.5,79.7 170.7,68.2 170.8,68.6 171.0,76.1 171.1,68.9 171.2,75.9 171.4,80.9 171.5,79.2 171.7,77.1 171.8,83.0 171.9,86.9 172.1,75.2 172.2,83.6 172.4,85.7 172.5,89.9 172.6,88.4 172.8,88.3 172.9,79.1 173.1,83.7 173.2,74.5 173.3,79.7 173.5,77.7 173.6,80.2 173.8,96.6 173.9,91.2 174.0,82.8 174.2,77.3 174.3,76.8 174.5,76.7 174.6,73.4 174.7,83.3 174.9,88.0 175.0,82.9 175.2,79.4 175.3,74.8 175.4,79.1 175.6,86.3 175.7,88.4 175.9,88.7 176.0,91.8 176.1,100.6 176.3,97.5 176.4,97.5 176.6,87.9 176.7,91.4 176.8,80.2 177.0,89.3 177.1,87.9 177.3,94.1 177.4,86.1 177.5,84.1 177.7,80.0 177.8,77.7 178.0,69.7 178.1,83.4 178.2,82.5 178.4,86.5 178.5,86.7 178.7,83.7 178.8,83.2 178.9,96.6 179.1,94.4 179.2,80.6 179.4,80.6 179.5,77.0 179.6,84.8 179.8,89.3 179.9,85.7 180.1,79.2 180.2,88.4 180.3,85.7 180.5,79.2 180.6,75.2 180.8,82.8 180.9,84.8 181.0,93.8 181.2,96.8 181.3,89.4 181.5,90.5 181.6,92.7 181.7,99.4 181.9,92.0 182.0,86.0 182.2,84.7 182.3,100.1 182.4,84.5 182.6,93.6 182.7,90.1 182.9,88.3 183.0,69.2 183.1,71.7 183.3,82.5 183.4,71.1 183.6,66.7 183.7,77.1 183.8,90.2 184.0,91.3 184.1,89.4 184.3,77.1 184.4,79.9 184.5,84.3 184.7,89.7 184.8,81.8 185.0,81.4 185.1,87.5 185.2,78.7 185.4,73.6 185.5,84.2 185.7,81.4 185.8,92.6 185.9,82.8 186.1,81.3 186.2,76.7 186.4,77.0 186.5,78.8 186.6,73.2 186.8,74.6 186.9,82.3 187.1,79.4 187.2,88.1 187.3,84.9 187.5,90.1 187.6,84.8 187.8,90.3 187.9,86.3 188.0,91.1 188.2,79.8 188.3,81.5 188.5,80.5 188.6,91.2 188.7,87.3 188.9,84.5 189.0,80.7 189.2,75.7 189.3,74.8 189.4,78.2 189.6,76.9 189.7,81.3 189.9,80.2 190.0,77.0 190.1,65.4 190.3,77.8 190.4,78.4 190.6,78.7 190.7,69.6 190.8,65.8 191.0,72.4 191.1,69.4 191.3,56.9 191.4,64.2 191.5,66.5 191.7,68.7 191.8,69.9 192.0,76.9 192.1,74.2 192.2,84.2 192.4,83.9 192.5,89.5 192.7,80.7 192.8,79.0 192.9,84.1 193.1,87.8 193.2,85.1 193.4,97.2 193.5,97.0 193.6,92.9 193.8,89.0 193.9,84.6 194.1,87.7 194.2,76.9 194.3,77.1 194.5,85.3 194.6,91.2 194.8,90.3 194.9,89.3 195.0,81.3 195.2,79.8 195.3,75.6 195.5,88.7 195.6,90.7 195.7,93.0 195.9,83.8 196.0,92.0 196.2,98.4 196.3,90.8 196.4,87.0 196.6,82.8 196.7,90.8 196.9,85.0 197.0,91.8 197.1,86.3 197.3,88.4 197.4,91.8 197.6,84.4 197.7,84.4 197.8,84.1 198.0,93.0 198.1,92.6 198.3,99.2 198.4,99.0 198.5,91.5 198.7,89.2 198.8,88.2 199.0,92.0 199.1,82.5 199.2,86.2 199.4,91.0 199.5,100.3 199.7,104.5 199.8,96.8 199.9,96.7 200.1,83.5 200.2,82.9 200.4,81.9 200.5,100.8 200.6,103.1 200.8,90.0 200.9,87.3 201.1,91.3 201.2,89.6 201.3,92.8 201.5,85.0 201.6,75.3 201.8,94.3 201.9,84.2 202.0,86.8 202.2,95.3 202.3,78.4 202.5,84.6 202.6,98.6 202.7,98.7 202.9,91.6 203.0,84.0 203.2,88.1 203.3,76.4 203.4,75.5 203.6,77.0 203.7,90.4 203.9,94.6 204.0,89.5 204.1,85.1 204.3,77.7 204.4,84.7 204.6,86.8 204.7,73.4 204.8,77.7 205.0,86.7 205.1,81.4 205.3,80.0 205.4,98.0 205.5,86.0 205.7,86.4 205.8,77.9 206.0,73.2 206.1,79.5 206.2,77.8 206.4,79.0 206.5,76.8 206.7,82.7 206.8,87.7 206.9,96.4 207.1,87.4 207.2,91.5 207.4,90.3 207.5,87.2 207.6,98.1 207.8,91.2 207.9,100.6 208.1,93.8 208.2,94.8 208.3,85.3 208.5,83.2 208.6,90.6 208.8,98.9 208.9,101.8 209.0,103.2 209.2,108.4 209.3,117.8 209.5,116.8 209.6,108.2 209.7,104.8 209.9,105.3 210.0,92.5 210.2,100.6 210.3,98.2 210.4,91.3 210.6,104.0 210.7,98.7 210.9,92.8 211.0,104.0 211.1,102.1 211.3,94.1 211.4,97.9 211.6,95.3 211.7,88.0 211.8,88.6 212.0,90.0 212.1,96.1 212.3,85.4 212.4,90.7 212.5,89.7 212.7,89.1 212.8,93.6 213.0,93.6 213.1,91.9 213.2,92.0 213.4,91.2 213.5,90.8 213.7,95.2 213.8,94.3 213.9,96.9 214.1,88.6 214.2,89.9 214.4,82.4 214.5,79.5 214.6,83.7 214.8,84.7 214.9,79.3 215.1,80.7 215.2,93.2 215.3,86.3 215.5,83.6 215.6,94.1 215.8,99.8 215.9,92.6 216.0,93.4 216.2,90.2 216.3,92.3 216.5,88.3 216.6,88.7 216.7,87.0 216.9,88.8 217.0,91.6 217.2,86.2 217.3,95.8 217.4,93.7 217.6,79.7 217.7,83.0 217.9,85.3 218.0,82.0 218.1,86.2 218.3,84.6 218.4,94.4 218.6,86.2 218.7,89.1 218.8,90.7 219.0,89.0 219.1,87.6 219.3,88.0 219.4,84.4 219.5,88.9 219.7,90.8 219.8,88.6 220.0,96.5 220.1,86.9 220.2,91.7 220.4,87.5 220.5,85.9 220.7,83.4 220.8,72.1 220.9,81.8 221.1,83.3 221.2,99.4 221.4,80.0 221.5,74.1 221.6,72.4 221.8,78.4 221.9,86.4 222.1,78.8 222.2,85.0 222.3,81.4 222.5,85.7 222.6,76.9 222.8,66.2 222.9,71.4 223.0,65.4 223.2,68.3 223.3,61.1 223.5,62.9 223.6,66.4 223.7,74.2 223.9,72.6 224.0,59.5 224.2,60.3 224.3,68.9 224.4,57.6 224.6,71.6 224.7,73.7 224.9,69.2 225.0,71.1 225.1,67.9 225.3,71.7 225.4,75.5 225.6,90.9 225.7,82.1 225.8,83.0 226.0,79.0 226.1,82.0 226.3,79.2 226.4,77.3 226.5,79.3 226.7,80.5 226.8,86.0 227.0,79.8 227.1,86.7 227.2,79.6 227.4,75.8 227.5,78.0 227.7,79.2 227.8,64.8 227.9,74.3 228.1,80.9 228.2,77.7 228.4,81.6 228.5,80.3 228.6,84.0 228.8,77.8 228.9,86.0 229.1,93.9 229.2,89.9 229.3,81.8 229.5,75.6 229.6,81.9 229.8,80.9 229.9,80.1 230.0,86.6 230.2,79.1 230.3,85.5 230.5,78.4 230.6,82.5 230.7,75.8 230.9,73.3 231.0,76.5 231.2,77.1 231.3,76.3 231.4,75.2 231.6,77.7 231.7,76.3 231.9,69.8 232.0,81.2 232.1,81.9 232.3,80.2 232.4,74.1 232.6,88.0 232.7,84.2 232.8,74.4 233.0,84.9 233.1,75.8 233.3,78.8 233.4,77.5 233.5,73.1 233.7,75.4 233.8,77.0 234.0,70.5 234.1,66.5 234.2,75.8 234.4,63.4 234.5,75.6 234.7,77.1 234.8,78.0 234.9,92.4 235.1,81.7 235.2,85.7 235.4,85.2 235.5,71.9 235.6,69.6 235.8,74.4 235.9,79.9 236.1,84.2 236.2,83.7 236.3,69.5 236.5,73.6 236.6,74.1 236.8,80.2 236.9,77.9 237.0,82.5 237.2,87.4 237.3,96.6 237.5,86.0 237.6,77.6 237.7,86.6 237.9,82.4 238.0,84.9 238.2,88.0 238.3,78.0 238.4,76.9 238.6,77.6 238.7,88.6 238.9,80.5 239.0,90.2 239.1,84.0 239.3,77.9 239.4,73.3 239.6,75.0 239.7,67.4 239.8,71.4 240.0,78.8 240.1,79.4 240.3,90.6 240.4,83.9 240.5,94.3 240.7,90.4 240.8,86.5 241.0,84.2 241.1,86.7 241.2,75.2 241.4,80.4 241.5,67.1 241.7,74.1 241.8,73.1 241.9,74.6 242.1,90.1 242.2,76.1 242.4,81.4 242.5,78.3 242.6,88.5 242.8,81.3 242.9,80.8 243.1,87.1 243.2,81.2 243.3,88.0 243.5,77.8 243.6,92.0 243.8,85.0 243.9,89.3 244.0,86.2 244.2,78.5 244.3,79.3 244.5,94.3 244.6,85.1 244.7,91.7 244.9,97.9 245.0,89.4 245.2,89.7 245.3,78.8 245.4,82.0 245.6,82.1 245.7,87.6 245.9,72.9 246.0,84.7 246.1,89.7 246.3,87.5 246.4,86.3 246.6,93.0 246.7,88.0 246.8,92.3 247.0,85.6 247.1,84.6 247.3,85.5 247.4,88.8 247.5,79.0 247.7,81.3 247.8,75.0 248.0,85.1 248.1,84.3 248.2,90.9 248.4,81.8 248.5,84.2 248.7,86.5 248.8,87.4 248.9,93.1 249.1,94.8 249.2,90.8 249.4,85.7 249.5,96.7 249.6,96.1 249.8,99.2 249.9,108.0 250.1,93.0 250.2,89.2 250.3,98.7 250.5,90.1 250.6,78.6 250.8,83.8 250.9,79.6 251.0,75.1 251.2,84.2 251.3,94.9 251.5,95.7 251.6,93.6 251.7,90.0 251.9,91.3 252.0,87.2 252.2,92.0 252.3,91.7 252.4,87.1 252.6,89.4 252.7,84.0 252.9,81.9 253.0,83.6 253.1,88.2 253.3,86.3 253.4,81.0 253.6,85.3 253.7,88.4 253.8,80.8 254.0,88.9 254.1,84.2 254.3,97.4 254.4,89.7 254.5,92.7 254.7,93.6 254.8,94.0 255.0,87.6 255.1,84.7 255.2,86.1 255.4,103.9 255.5,106.4 255.7,100.8 255.8,101.8 255.9,86.3 256.1,82.0 256.2,81.3 256.4,90.1 256.5,98.7 256.6,101.4 256.8,95.2 256.9,91.5 257.1,89.7 257.2,97.9 257.3,83.5 257.5,82.4 257.6,80.5 257.8,100.3 257.9,92.3 258.0,89.3 258.2,88.1 258.3,109.0 258.5,103.8 258.6,95.7 258.7,96.5 258.9,89.3 259.0,90.1 259.2,88.1 259.3,87.3 259.4,81.2 259.6,77.8 259.7,95.1 259.9,86.8 260.0,86.1 260.1,79.3 260.3,79.9 260.4,86.7 260.6,98.0 260.7,87.0 260.8,82.9 261.0,79.8 261.1,81.7 261.3,95.9 261.4,83.8 261.5,90.5 261.7,87.5 261.8,95.8 262.0,97.1 262.1,103.2 262.2,91.0 262.4,99.8 262.5,95.6 262.7,98.5 262.8,91.5 262.9,92.0 263.1,85.7 263.2,82.9 263.4,93.6 263.5,91.3 263.6,88.3 263.8,90.3 263.9,95.0 264.1,92.8 264.2,83.1 264.3,90.3 264.5,93.5 264.6,88.2 264.8,100.6 264.9,95.3 265.0,100.3 265.2,83.4 265.3,101.0 265.5,101.1 265.6,101.9 265.7,101.0 265.9,107.5 266.0,110.9 266.2,114.5 266.3,110.1 266.4,96.2 266.6,97.6 266.7,84.5 266.9,85.3 267.0,94.4 267.1,89.7 267.3,97.9 267.4,86.3 267.6,81.1 267.7,91.7 267.8,92.3 268.0,87.6 268.1,94.4 268.3,91.5 268.4,94.1 268.5,102.1 268.7,104.2 268.8,117.3 269.0,109.3 269.1,121.0 269.2,128.5 269.4,119.5 269.5,134.6 269.7,125.4 269.8,132.8 269.9,123.2 270.1,115.3 270.2,104.6 270.4,108.8 270.5,135.2 270.6,124.0 270.8,115.3 270.9,131.2 271.1,138.2 271.2,153.3 271.3,138.3 271.5,130.3 271.6,130.3 271.8,113.9 271.9,99.1 272.0,119.8 272.2,139.7 272.3,136.1 272.5,150.6 272.6,153.9 272.7,138.7 272.9,141.3 273.0,137.1 273.2,118.5 273.3,126.4 273.4,121.5 273.6,124.8 273.7,114.4 273.9,111.3 274.0,124.5 274.1,111.2 274.3,106.0 274.4,102.6 274.6,122.3 274.7,146.5 274.8,138.9 275.0,118.9 275.1,135.1 275.3,135.5 275.4,120.2 275.5,156.1 275.7,150.8 275.8,131.4 276.0,116.8 276.1,118.3 276.2,132.4 276.4,165.0 276.5,164.1 276.7,173.2 276.8,164.0 276.9,142.1 277.1,118.8 277.2,137.4 277.4,133.1 277.5,144.0 277.6,144.9 277.8,157.2 277.9,132.7 278.1,119.6 278.2,113.3 278.3,122.8 278.5,135.6 278.6,147.5 278.8,130.3 278.9,141.3 279.0,142.5 279.2,126.8 279.3,129.1 279.5,128.6 279.6,145.1 279.7,130.5 279.9,113.6 280.0,123.8 280.2,133.7 280.3,125.2 280.4,158.4 280.6,120.9 280.7,109.1 280.9,106.9 281.0,125.7 281.1,124.4 281.3,115.5 281.4,117.9 281.6,120.9 281.7,125.0 281.8,127.8 282.0,127.9 282.1,115.8 282.3,134.1 282.4,137.4 282.5,134.3 282.7,119.5 282.8,123.2 283.0,129.6 283.1,141.6 283.2,117.7 283.4,122.6 283.5,127.6 283.7,130.8 283.8,137.6 283.9,137.5 284.1,147.6 284.2,147.9 284.4,132.2 284.5,134.2 284.6,150.1 284.8,145.4 284.9,145.1 285.1,151.3 285.2,147.5 285.3,136.2 285.5,148.1 285.6,150.4 285.8,165.1 285.9,140.7 286.0,141.9 286.2,143.3 286.3,154.2 286.5,145.9 286.6,135.9 286.7,140.0 286.9,147.0 287.0,136.8 287.2,133.7 287.3,153.0 287.4,154.6 287.6,145.6 287.7,152.4 287.9,157.1 288.0,133.2 288.1,147.7 288.3,149.1 288.4,142.9 288.6,150.1 288.7,159.6 288.8,157.5 289.0,158.7 289.1,153.3 289.3,150.3 289.4,157.4 289.5,157.9 289.7,164.3 289.8,153.5 290.0,153.8 290.1,150.8 290.2,138.4 290.4,163.3 290.5,156.2 290.7,161.1 290.8,143.2 290.9,159.6 291.1,155.5 291.2,151.6 291.4,155.3 291.5,153.4 291.6,141.8 291.8,155.2 291.9,150.2 292.1,145.3 292.2,154.4 292.3,143.3 292.5,127.4 292.6,138.7 292.8,163.4 292.9,159.7 293.0,158.4 293.2,156.7 293.3,154.8 293.5,150.9 293.6,150.2 293.7,163.7 293.9,159.1 294.0,154.9 294.2,154.4 294.3,170.6 294.4,156.5 294.6,152.0 294.7,142.8 294.9,131.5 295.0,136.4 295.1,132.3 295.3,132.7 295.4,140.9 295.6,157.6 295.7,157.2 295.8,156.3 296.0,165.2 296.1,159.9 296.3,156.3 296.4,168.2 296.5,160.3 296.7,161.6 296.8,161.1 297.0,153.6 297.1,157.9 297.2,156.4 297.4,154.7 297.5,151.8 297.7,161.6 297.8,155.9 297.9,152.6 298.1,157.2 298.2,149.0 298.4,164.7 298.5,158.4 298.6,159.4 298.8,164.3 298.9,165.2 299.1,155.4 299.2,143.4 299.3,144.4 299.5,136.3 299.6,146.7 299.8,148.8 299.9,152.5 300.0,153.2 300.2,158.4 300.3,144.9 300.5,152.4 300.6,144.2 300.7,159.4 300.9,145.1 301.0,150.4 301.2,151.2 301.3,145.1 301.4,146.8 301.6,157.7 301.7,149.7 301.9,149.0 302.0,139.9 302.1,139.4 302.3,137.1 302.4,142.8 302.6,146.7 302.7,155.4 302.8,160.3 303.0,156.1 303.1,147.1 303.3,156.9 303.4,156.2 303.5,154.3 303.7,157.4 303.8,156.0 304.0,170.7 304.1,170.8 304.2,164.3 304.4,164.6 304.5,155.0 304.7,141.4 304.8,154.4 304.9,147.8 305.1,146.5 305.2,166.0 305.4,164.8 305.5,162.7 305.6,151.8 305.8,152.5 305.9,138.9 306.1,144.9 306.2,150.8 306.3,150.9 306.5,163.2 306.6,166.2 306.8,167.5 306.9,159.9 307.0,158.0 307.2,162.9 307.3,166.3 307.5,160.1 307.6,163.2 307.7,165.2 307.9,158.7 308.0,162.3 308.2,162.0 308.3,161.3 308.4,175.7 308.6,179.8 308.7,173.5 308.9,165.1 309.0,159.1 309.1,158.6 309.3,163.1 309.4,159.5 309.6,148.6 309.7,150.4 309.8,147.0 310.0,152.0 310.1,157.8 310.3,161.4 310.4,161.8 310.5,157.3 310.7,160.4 310.8,159.5 311.0,159.0 311.1,169.1 311.2,172.7 311.4,161.9 311.5,171.1 311.7,172.8 311.8,177.2 311.9,165.0 312.1,159.8 312.2,168.3 312.4,169.2 312.5,167.7 312.6,161.7 312.8,161.8 312.9,165.9 313.1,165.8 313.2,166.9 313.3,162.9 313.5,160.3 313.6,167.2 313.8,159.6 313.9,164.8 314.0,167.0 314.2,165.0 314.3,166.8 314.5,163.5 314.6,163.7 314.7,160.7 314.9,164.0 315.0,166.5 315.2,164.4 315.3,166.3 315.4,164.2 315.6,165.3 315.7,164.7 315.9,166.4 316.0,168.0 316.1,172.9 316.3,172.0 316.4,167.7 316.6,169.5 316.7,169.6 316.8,168.8 317.0,169.8 317.1,168.7 317.3,163.5 317.4,167.8 317.5,166.9 317.7,166.4 317.8,170.5 318.0,162.4 318.1,170.5 318.2,161.2 318.4,163.1 318.5,168.3 318.7,167.4 318.8,166.4 318.9,166.7 319.1,165.7 319.2,167.3 319.4,168.0 319.5,169.6 319.6,166.2 319.8,169.8 319.9,163.1 320.1,169.0 320.2,170.3 320.3,167.9 320.5,165.9 320.6,166.6 320.8,164.1 320.9,165.1 321.0,163.1 321.2,161.7 321.3,166.4 321.5,161.6 321.6,168.6 321.7,169.3 321.9,164.4 322.0,165.8 322.2,166.4 322.3,158.0 322.4,165.6 322.6,162.2 322.7,157.5 322.9,164.2 323.0,163.1 323.1,167.9 323.3,162.2 323.4,161.9 323.6,160.6 323.7,160.1 323.8,163.3 324.0,167.6 324.1,162.4 324.3,166.5 324.4,165.5 324.5,166.8 324.7,162.6 324.8,162.7 325.0,164.0 325.1,163.8 325.2,166.5 325.4,168.0 325.5,170.2 325.7,163.6 325.8,162.9 325.9,168.3 326.1,170.8 326.2,164.2 326.4,160.8 326.5,169.4 326.6,163.7 326.8,166.8 326.9,165.0 327.1,164.9 327.2,169.6 327.3,167.2 327.5,167.0 327.6,169.3 327.8,164.4 327.9,168.8 328.0,165.4 328.2,171.4 328.3,165.7 328.5,165.2 328.6,167.1 328.7,163.2 328.9,168.9 329.0,164.4 329.2,169.3 329.3,170.6 329.4,168.2 329.6,163.2 329.7,168.2 329.9,166.5 330.0,171.1 330.1,171.7 330.3,168.7 330.4,168.2 330.6,161.7 330.7,168.5 330.8,168.6 331.0,165.5 331.1,172.1 331.3,168.6 331.4,162.2 331.5,161.7 331.7,164.5 331.8,167.8 332.0,168.2 332.1,165.0 332.2,167.9 332.4,162.8 332.5,161.2 332.7,165.2 332.8,157.4 332.9,165.3 333.1,165.0 333.2,165.7 333.4,160.8 333.5,162.2 333.6,172.8 333.8,162.9 333.9,163.4 334.1,167.9 334.2,166.1 334.3,169.3 334.5,164.1 334.6,164.8 334.8,166.9 334.9,168.0 335.0,166.9 335.2,161.1 335.3,168.9 335.5,162.3 335.6,166.7 335.7,165.9 335.9,166.1 336.0,162.8 336.2,170.8 336.3,166.6 336.4,167.7 336.6,169.2 336.7,173.0 336.9,165.7 337.0,172.3 337.1,172.6 337.3,167.6 337.4,172.4 337.6,170.4 337.7,166.9 337.8,163.4 338.0,164.5 338.1,162.1 338.3,165.6 338.4,172.0 338.5,169.0 338.7,166.5 338.8,169.6 339.0,163.9 339.1,165.0 339.2,171.8 339.4,166.8 339.5,163.5 339.7,163.0 339.8,167.4 339.9,164.9 340.1,172.5 340.2,164.5 340.4,171.8 340.5,164.3 340.6,172.1 340.8,172.5 340.9,172.9 341.1,164.5 341.2,168.7 341.3,165.4 341.5,169.0 341.6,172.0 341.8,167.6 341.9,169.7 342.0,171.1 342.2,165.7 342.3,169.8 342.5,172.4 342.6,172.6 342.7,171.8 342.9,166.0 343.0,170.1 343.2,173.3 343.3,167.3 343.4,166.6 343.6,169.1 343.7,166.6 343.9,170.7 344.0,169.2 344.1,171.1 344.3,170.1 344.4,172.3 344.6,168.1 344.7,163.9 344.8,166.8 345.0,164.6 345.1,166.8 345.3,164.5 345.4,166.8 345.5,167.8 345.7,165.4 345.8,166.6 346.0,164.0 346.1,157.9 346.2,160.3 346.4,165.1 346.5,165.7 346.7,163.0 346.8,171.2 346.9,159.4 347.1,158.7 347.2,154.5 347.4,152.7 347.5,157.4 347.6,162.6 347.8,157.6 347.9,157.2 348.1,161.2 348.2,167.4 348.3,158.9 348.5,163.3 348.6,171.4 348.8,161.2 348.9,166.6 349.0,172.2 349.2,162.1 349.3,161.6 349.5,162.6 349.6,157.0 349.7,156.5 349.9,165.9 350.0,164.1 350.2,160.5 350.3,161.7 350.4,172.5 350.6,169.7 350.7,171.3 350.9,171.9 351.0,168.4 351.1,168.4 351.3,166.6 351.4,168.1 351.6,165.8 351.7,169.2 351.8,166.6 352.0,167.6 352.1,170.7 352.3,164.2 352.4,167.9 352.5,165.3 352.7,167.0 352.8,169.4 353.0,172.5 353.1,167.2 353.2,164.9 353.4,168.7 353.5,172.8 353.7,167.5 353.8,173.1 353.9,174.0 354.1,169.4 354.2,168.2 354.4,167.5 354.5,165.0 354.6,163.7 354.8,164.1 354.9,164.1 355.1,170.3 355.2,166.8 355.3,170.4 355.5,169.3 355.6,164.5 355.8,163.1 355.9,170.9 356.0,168.4 356.2,170.6 356.3,173.0 356.5,163.1 356.6,168.6 356.7,164.9 356.9,159.3 357.0,164.9 357.2,169.0 357.3,161.0 357.4,171.2 357.6,166.1 357.7,161.4 357.9,165.6 358.0,164.7 358.1,164.4 358.3,167.2 358.4,166.8 358.6,166.6 358.7,159.1 358.8,162.9 359.0,162.1 359.1,167.9 359.3,166.9 359.4,171.6 359.5,168.8 359.7,170.0 359.8,165.9 360.0,169.9 360.1,164.1 360.2,166.7 360.4,165.3 360.5,168.4 360.7,168.5 360.8,166.8 360.9,166.2 361.1,166.8 361.2,164.8 361.4,170.3 361.5,168.5 361.6,171.9 361.8,163.4 361.9,168.7 362.1,172.7 362.2,169.4 362.3,171.3 362.5,165.2 362.6,164.6 362.8,160.4 362.9,162.6 363.0,162.3 363.2,165.4 363.3,167.0 363.5,159.2 363.6,168.3 363.7,164.9 363.9,158.2 364.0,159.8 364.2,159.5 364.3,165.8 364.4,165.3 364.6,165.5 364.7,162.9 364.9,156.8 365.0,157.4 365.1,164.2 365.3,152.0 365.4,157.2 365.6,161.3 365.7,160.9 365.8,162.6 366.0,149.7 366.1,164.2 366.3,151.6 366.4,153.1 366.5,152.7 366.7,156.6 366.8,152.1 367.0,159.2 367.1,169.7 367.2,165.5 367.4,155.9 367.5,158.7 367.7,162.3 367.8,165.7 367.9,170.6 368.1,167.0 368.2,165.6 368.4,170.1 368.5,159.9 368.6,165.4 368.8,166.9 368.9,169.0 369.1,163.3 369.2,172.5 369.3,170.6 369.5,165.4 369.6,166.4 369.8,170.0 369.9,173.7 370.0,166.3 370.2,173.5 370.3,167.4 370.5,174.3 370.6,171.6 370.7,166.1 370.9,173.4 371.0,174.2 371.2,171.2 371.3,172.7 371.4,165.6 371.6,171.1 371.7,165.4 371.9,172.5 372.0,167.5 372.1,171.3 372.3,171.1 372.4,164.7 372.6,167.6 372.7,169.9 372.8,166.1 373.0,173.3 373.1,168.5 373.3,169.7 373.4,169.6 373.5,164.6 373.7,174.2 373.8,168.5 374.0,166.4 374.1,169.3 374.2,163.9 374.4,169.9 374.5,169.0 374.7,171.7 374.8,165.7 374.9,168.5 375.1,165.9 375.2,172.1 375.4,168.6 375.5,168.4 375.6,165.9 375.8,164.2 375.9,168.5 376.1,170.5 376.2,165.0 376.3,167.6 376.5,165.6 376.6,166.8 376.8,166.7 376.9,168.0 377.0,166.4 377.2,165.8 377.3,160.2 377.5,169.5 377.6,156.7 377.7,162.8 377.9,166.1 378.0,156.4 378.2,162.3 378.3,160.4 378.4,164.8 378.6,168.2 378.7,158.4 378.9,164.3 379.0,168.4 379.1,170.3 379.3,168.2 379.4,167.2 379.6,166.5 379.7,166.0 379.8,162.9 380.0,161.9 380.1,160.1 380.3,168.8 380.4,166.9 380.5,166.0 380.7,171.8 380.8,174.4 381.0,166.2 381.1,167.1 381.2,168.7 381.4,172.4 381.5,170.1 381.7,166.7 381.8,166.5 381.9,168.5 382.1,172.3 382.2,173.9 382.4,167.2 382.5,171.4 382.6,170.3 382.8,164.8 382.9,163.8 383.1,164.8 383.2,167.7 383.3,166.5 383.5,164.9 383.6,168.2 383.8,164.3 383.9,167.8 384.0,168.4 384.2,171.3 384.3,164.4 384.5,168.6 384.6,169.2 384.7,165.1 384.9,169.7 385.0,165.0 385.2,164.5 385.3,162.2 385.4,163.8 385.6,168.7 385.7,164.1 385.9,165.3 386.0,169.0 386.1,168.7 386.3,166.5 386.4,170.8 386.6,166.0 386.7,164.3 386.8,161.4 387.0,170.9 387.1,163.0 387.3,170.4 387.4,171.5 387.5,163.5 387.7,161.5 387.8,162.1 388.0,168.1 388.1,171.5 388.2,169.6 388.4,165.1 388.5,166.8 388.7,174.9 388.8,166.9 388.9,169.3 389.1,164.0 389.2,168.6 389.4,167.2 389.5,171.3 389.6,168.8 389.8,173.7 389.9,166.7 390.1,165.3 390.2,165.0 390.3,171.2 390.5,171.8 390.6,165.1 390.8,166.4 390.9,165.5 391.0,171.0 391.2,171.4 391.3,171.8 391.5,163.6 391.6,165.2 391.7,169.3 391.9,169.3 392.0,166.7 392.2,167.1 392.3,167.0 392.4,164.6 392.6,168.5 392.7,172.2 392.9,163.4 393.0,164.9 393.1,170.4 393.3,163.9 393.4,162.6 393.6,162.0 393.7,159.6 393.8,156.6 394.0,160.7 394.1,157.7 394.3,160.5 394.4,162.4 394.5,163.7 394.7,170.2 394.8,159.7 395.0,158.2 395.1,161.6 395.2,157.2 395.4,167.7 395.5,169.8 395.7,164.6 395.8,168.7 395.9,163.8 396.1,162.6 396.2,165.7 396.4,168.5 396.5,165.3 396.6,166.3 396.8,167.7 396.9,169.3 397.1,163.8 397.2,170.9 397.3,166.3 397.5,167.7 397.6,168.9 397.8,166.3 397.9,168.8 398.0,169.9 398.2,168.0 398.3,171.5 398.5,172.7 398.6,170.3 398.7,172.5 398.9,168.7 399.0,169.0 399.2,168.8 399.3,171.6 399.4,171.6 399.6,166.0 399.7,167.6 399.9,169.8 400.0,165.2 400.1,168.0 400.3,166.4 400.4,171.7 400.6,174.5 400.7,171.9 400.8,162.7 401.0,170.8 401.1,163.1 401.3,166.8 401.4,165.5 401.5,170.1 401.7,169.1 401.8,168.9 402.0,165.8 402.1,167.7 402.2,170.9 402.4,167.3 402.5,169.4 402.7,164.8 402.8,166.7 402.9,172.5 403.1,167.8 403.2,169.1 403.4,164.3 403.5,165.4 403.6,172.2 403.8,169.1 403.9,166.2 404.1,164.7 404.2,169.6 404.3,168.0 404.5,169.1 404.6,172.6 404.8,169.3 404.9,168.6 405.0,171.2 405.2,168.0 405.3,171.0 405.5,167.3 405.6,173.2 405.7,166.8 405.9,173.4 406.0,166.7 406.2,171.5 406.3,167.5 406.4,170.1 406.6,167.6 406.7,169.0 406.9,172.1 407.0,167.3 407.1,165.8 407.3,167.0 407.4,171.4 407.6,166.9 407.7,168.1 407.8,168.8 408.0,166.4 408.1,167.2 408.3,164.1 408.4,165.6 408.5,168.9 408.7,168.0 408.8,160.3 409.0,163.1 409.1,164.3 409.2,165.0 409.4,158.4 409.5,162.1 409.7,164.6 409.8,166.4 409.9,159.1 410.1,166.9 410.2,163.8 410.4,164.2 410.5,163.7 410.6,166.4 410.8,160.6 410.9,169.7 411.1,161.2 411.2,169.8 411.3,167.2 411.5,165.9 411.6,165.9 411.8,167.5 411.9,164.5 412.0,167.7 412.2,166.4 412.3,171.1 412.5,169.8 412.6,170.5 412.7,164.1 412.9,172.1 413.0,167.5 413.2,165.2 413.3,162.8 413.4,171.4 413.6,164.4 413.7,173.0 413.9,166.2 414.0,166.4 414.1,170.2 414.3,164.6 414.4,164.0 414.6,172.1 414.7,167.5 414.8,174.2 415.0,165.7 415.1,170.7 415.3,174.6 415.4,169.8 415.5,169.2 415.7,171.7 415.8,174.6 416.0,168.1 416.1,166.0 416.2,164.3 416.4,165.1 416.5,172.1 416.7,170.4 416.8,171.1 416.9,166.3 417.1,158.9 417.2,156.0 417.4,163.2 417.5,162.2 417.6,163.6 417.8,164.9 417.9,171.2 418.1,164.8 418.2,165.5 418.3,169.8 418.5,167.3 418.6,164.1 418.8,170.0 418.9,164.0 419.0,162.4 419.2,172.7 419.3,165.7 419.5,159.7 419.6,169.6 419.7,165.5 419.9,160.5 420.0,164.2 420.2,162.9 420.3,168.5 420.4,165.5 420.6,160.5 420.7,158.7 420.9,167.7 421.0,166.7 421.1,163.3 421.3,168.0 421.4,162.4 421.6,166.0 421.7,165.9 421.8,169.3 422.0,167.1 422.1,169.8 422.3,160.1 422.4,160.4 422.5,165.1 422.7,168.7 422.8,168.8 423.0,164.7 423.1,170.1 423.2,170.4 423.4,168.8 423.5,164.5 423.7,162.4 423.8,166.6 423.9,163.2 424.1,164.8 424.2,172.5 424.4,168.3 424.5,164.7 424.6,167.0 424.8,168.6 424.9,162.2 425.1,168.6 425.2,163.0 425.3,172.2 425.5,170.4 425.6,170.1 425.8,167.5 425.9,163.3 426.0,163.0 426.2,164.5 426.3,167.1 426.5,168.2 426.6,168.6 426.7,168.7 426.9,173.7 427.0,175.2 427.2,166.5 427.3,174.4 427.4,172.8 427.6,172.6 427.7,170.5 427.9,172.6 428.0,167.9 428.1,166.8 428.3,164.2 428.4,164.4 428.6,166.3 428.7,165.0 428.8,172.1 429.0,167.0 429.1,171.1 429.3,171.2 429.4,169.8 429.5,170.3 429.7,172.4 429.8,171.4 430.0,166.9 430.1,162.0 430.2,162.2 430.4,161.0 430.5,160.8 430.7,164.3 430.8,168.3 430.9,169.3 431.1,171.1 431.2,169.9 431.4,169.8 431.5,167.6 431.6,164.1 431.8,171.5 431.9,168.6 432.1,170.3 432.2,169.4 432.3,169.9 432.5,166.0 432.6,166.4 432.8,166.6 432.9,167.7 433.0,165.3 433.2,164.3 433.3,161.2 433.5,165.2 433.6,167.5 433.7,169.4 433.9,165.4 434.0,160.3 434.2,165.9 434.3,156.0 434.4,165.1 434.6,156.0 434.7,155.6 434.9,169.2 435.0,160.3 435.1,165.8 435.3,164.0 435.4,163.7 435.6,160.2 435.7,164.0 435.8,167.0 436.0,165.5 436.1,158.1 436.3,164.6 436.4,154.2 436.5,160.2 436.7,163.9 436.8,155.6 437.0,167.7 437.1,156.8 437.2,156.8 437.4,160.3 437.5,165.4 437.7,157.7 437.8,159.3 437.9,163.3 438.1,167.0 438.2,162.6 438.4,163.7 438.5,170.9 438.6,161.5 438.8,166.9 438.9,162.9 439.1,166.3 439.2,157.3 439.3,163.6 439.5,162.8 439.6,166.9 439.8,165.4 439.9,168.2 440.0,168.9 440.2,165.1 440.3,168.2 440.5,162.9 440.6,168.2 440.7,170.5 440.9,167.1 441.0,164.7 441.2,172.1 441.3,166.1 441.4,168.6 441.6,164.7 441.7,171.1 441.9,164.8 442.0,167.2 442.1,164.7 442.3,164.5 442.4,168.2 442.6,168.2 442.7,168.8 442.8,172.5 443.0,168.4 443.1,169.0 443.3,160.7 443.4,156.4 443.5,162.8 443.7,165.2 443.8,164.3 444.0,157.3 444.1,165.1 444.2,154.3 444.4,156.8 444.5,165.4 444.7,159.7 444.8,154.8 444.9,152.0 445.1,154.3 445.2,153.8 445.4,158.3 445.5,159.7 445.6,156.2 445.8,164.3 445.9,165.7 446.1,161.0 446.2,164.9 446.3,165.9 446.5,164.9 446.6,166.9 446.8,167.7 446.9,167.5 447.0,168.6 447.2,170.6 447.3,167.7 447.5,167.3 447.6,167.5 447.7,163.4 447.9,166.9 448.0,165.2 448.2,164.0 448.3,166.7 448.4,167.0 448.6,169.5 448.7,168.9 448.9,169.2 449.0,168.1 449.1,159.3 449.3,164.1 449.4,165.6 449.6,160.2 449.7,169.0 449.8,163.9 450.0,166.5 450.1,165.3 450.3,160.6 450.4,166.1 450.5,158.9 450.7,166.1 450.8,162.5 451.0,163.6 451.1,158.1 451.2,164.9 451.4,163.7 451.5,171.6 451.7,169.4 451.8,159.5 451.9,155.7 452.1,168.7 452.2,162.8 452.4,165.5 452.5,160.2 452.6,163.1 452.8,169.5 452.9,167.5 453.1,161.0 453.2,163.2 453.3,157.0 453.5,163.6 453.6,159.0 453.8,160.7 453.9,166.3 454.0,163.4 454.2,166.6 454.3,164.9 454.5,159.1 454.6,165.8 454.7,166.5 454.9,159.9 455.0,163.4 455.2,160.2 455.3,158.7 455.4,163.1 455.6,162.1 455.7,167.4 455.9,170.2 456.0,161.0 456.1,156.8 456.3,155.1 456.4,169.0 456.6,161.8 456.7,166.8 456.8,163.0 457.0,167.7 457.1,164.6 457.3,171.8 457.4,167.7 457.5,166.5 457.7,167.1 457.8,163.7 458.0,170.4 458.1,165.3 458.2,163.5 458.4,164.2 458.5,170.0 458.7,165.6 458.8,164.3 458.9,168.8 459.1,162.2 459.2,166.0 459.4,166.7 459.5,168.7 459.6,162.6 459.8,169.1 459.9,166.0 460.1,165.1 460.2,171.1 460.3,166.9 460.5,166.4 460.6,160.9 460.8,162.3 460.9,164.7 461.0,159.0 461.2,155.1 461.3,163.3 461.5,150.0 461.6,148.7 461.7,159.0 461.9,161.2 462.0,153.2 462.2,168.8 462.3,158.5 462.4,159.2 462.6,161.3 462.7,166.8 462.9,164.8 463.0,170.1 463.1,170.3 463.3,172.4 463.4,173.1 463.6,168.7 463.7,170.0 463.8,169.1 464.0,173.2 464.1,174.3 464.3,168.1 464.4,165.9 464.5,174.9 464.7,166.3 464.8,167.6 465.0,165.9 465.1,167.9 465.2,173.6 465.4,165.5 465.5,169.5 465.7,165.8 465.8,170.3 465.9,165.9 466.1,167.9 466.2,173.9 466.4,170.6 466.5,163.7 466.6,171.7 466.8,170.6 466.9,171.4 467.1,166.7 467.2,171.3 467.3,173.2 467.5,173.5 467.6,168.9 467.8,172.7 467.9,171.9 468.0,167.4 468.2,166.4 468.3,169.1 468.5,166.4 468.6,169.5 468.7,163.8 468.9,169.7 469.0,164.3 469.2,169.0 469.3,163.9 469.4,168.4 469.6,172.7 469.7,170.5 469.9,169.4 470.0,173.2 470.1,169.4 470.3,169.4 470.4,168.4 470.6,166.7 470.7,166.1 470.8,169.2 471.0,168.2 471.1,165.4 471.3,171.9 471.4,170.6 471.5,162.7 471.7,166.1 471.8,165.0 472.0,168.0 472.1,161.7 472.2,160.2 472.4,164.2 472.5,167.9 472.7,161.2 472.8,167.6 472.9,162.7 473.1,162.3 473.2,166.0 473.4,169.3 473.5,168.5 473.6,164.7 473.8,160.2 473.9,168.4 474.1,164.4 474.2,160.8 474.3,162.0 474.5,166.4 474.6,168.0 474.8,164.7 474.9,164.3 475.0,163.8 475.2,166.7 475.3,166.9 475.5,168.3 475.6,168.8 475.7,170.5 475.9,169.3 476.0,170.5 476.2,166.3 476.3,167.0 476.4,172.3 476.6,165.7 476.7,168.5 476.9,170.6 477.0,171.4 477.1,172.6 477.3,168.1 477.4,170.1 477.6,169.3 477.7,172.9 477.8,168.4 478.0,171.8 478.1,171.0 478.3,167.4 478.4,164.5 478.5,171.4 478.7,165.1 478.8,169.6 479.0,171.9 479.1,170.6 479.2,172.0 479.4,166.6 479.5,164.6 479.7,165.9 479.8,168.6 479.9,170.8 480.1,171.7 480.2,166.0 480.4,171.5 480.5,164.5 480.6,170.6 480.8,161.9 480.9,163.7 481.1,169.1 481.2,160.9 481.3,162.4 481.5,164.5 481.6,170.4 481.8,161.9 481.9,168.2 482.0,169.5 482.2,166.5 482.3,161.4 482.5,163.0 482.6,158.3 482.7,156.5 482.9,155.5 483.0,165.1 483.2,161.2 483.3,164.1 483.4,159.5 483.6,165.2 483.7,160.8 483.9,160.7 484.0,167.9 484.1,171.3 484.3,162.6 484.4,164.8 484.6,165.1 484.7,166.6 484.8,166.5 485.0,169.7 485.1,165.4 485.3,163.8 485.4,170.0 485.5,170.0 485.7,170.0 485.8,169.7 486.0,170.1 486.1,165.6 486.2,167.7 486.4,168.8 486.5,165.7 486.7,170.1 486.8,172.6 486.9,165.2 487.1,171.6 487.2,168.8 487.4,165.4 487.5,168.0 487.6,164.7 487.8,167.5 487.9,173.2 488.1,165.4 488.2,166.2 488.3,163.2 488.5,165.5 488.6,163.9 488.8,164.1 488.9,166.2 489.0,167.5 489.2,169.3 489.3,172.3 489.5,167.8 489.6,164.0 489.7,170.6 489.9,168.4 490.0,172.0 490.2,165.3 490.3,169.4 490.4,168.9 490.6,167.0 490.7,170.5 490.9,167.0 491.0,173.0 491.1,168.1 491.3,172.7 491.4,171.8 491.6,169.5 491.7,171.7 491.8,170.6 492.0,173.2 492.1,165.9 492.3,173.8 492.4,173.6 492.5,165.9 492.7,165.2 492.8,167.9 493.0,164.4 493.1,164.7 493.2,168.8 493.4,173.5 493.5,172.6 493.7,173.9 493.8,174.4 493.9,172.2 494.1,169.5 494.2,165.3 494.4,165.3 494.5,173.2 494.6,171.2 494.8,173.4 494.9,167.9 495.1,166.9 495.2,168.3 495.3,164.6 495.5,170.0 495.6,163.0 495.8,168.1 495.9,171.2 496.0,165.0 496.2,162.1 496.3,162.1 496.5,161.3 496.6,167.7 496.7,170.0 496.9,160.0 497.0,163.3 497.2,166.0 497.3,163.0 497.4,164.3 497.6,158.4 497.7,160.1 497.9,164.6 498.0,165.1 498.1,170.5 498.3,164.2 498.4,166.4 498.6,170.5 498.7,164.3 498.8,158.2 499.0,160.3 499.1,163.0 499.3,169.3 499.4,168.0 499.5,163.2 499.7,170.6 499.8,163.6 500.0,164.0 500.1,163.0 500.2,169.5 500.4,170.7 500.5,164.2 500.7,172.0 500.8,167.3 500.9,169.8 501.1,172.4 501.2,172.5 501.4,168.8 501.5,164.5 501.6,169.5 501.8,174.8 501.9,174.6 502.1,166.5 502.2,167.4 502.3,170.1 502.5,169.6 502.6,173.2 502.8,166.2 502.9,167.4 503.0,171.0 503.2,164.4 503.3,164.0 503.5,164.5 503.6,169.5 503.7,170.4 503.9,165.1 504.0,169.7 504.2,164.9 504.3,171.3 504.4,170.1 504.6,174.3 504.7,169.6 504.9,167.5 505.0,168.0 505.1,169.8 505.3,169.6 505.4,166.5 505.6,165.8 505.7,165.6 505.8,167.4 506.0,164.9 506.1,166.5 506.3,169.6 506.4,164.2 506.5,162.6 506.7,171.4 506.8,163.2 507.0,170.2 507.1,169.0 507.2,170.7 507.4,172.7 507.5,167.1 507.7,171.5 507.8,164.2 507.9,167.2 508.1,169.6 508.2,166.7 508.4,173.2 508.5,170.4 508.6,165.0 508.8,171.7 508.9,165.1 509.1,166.7 509.2,168.3 509.3,165.5 509.5,165.8 509.6,164.5 509.8,166.0 509.9,161.8 510.0,168.3 510.2,157.7 510.3,158.0 510.5,158.1 510.6,157.6 510.7,156.7 510.9,160.0 511.0,170.2 511.2,169.2 511.3,164.7 511.4,161.5 511.6,163.6 511.7,161.0 511.9,164.3 512.0,163.2 512.1,165.8 512.3,165.6 512.4,163.2 512.6,163.5 512.7,167.8 512.8,167.0 513.0,168.9 513.1,171.4 513.3,171.4 513.4,163.5 513.5,172.2 513.7,166.9 513.8,171.4 514.0,167.6 514.1,167.4 514.2,167.5 514.4,170.5 514.5,167.2 514.7,166.3 514.8,171.4 514.9,167.2 515.1,167.7 515.2,166.9 515.4,168.5 515.5,164.8 515.6,168.8 515.8,172.0 515.9,168.0 516.1,160.9 516.2,169.3 516.3,166.8 516.5,159.3 516.6,167.4 516.8,163.2 516.9,169.0 517.0,160.3 517.2,161.5 517.3,157.3 517.5,165.7 517.6,154.6 517.7,160.6 517.9,155.2 518.0,154.4 518.2,162.5 518.3,164.1 518.4,160.4 518.6,164.0 518.7,151.0 518.9,158.7 519.0,155.2 519.1,161.8 519.3,167.5 519.4,158.6 519.6,154.5 519.7,155.1 519.8,166.5 520.0,161.3 520.1,155.9 520.3,157.8 520.4,159.4 520.5,158.7 520.7,158.4 520.8,154.8 521.0,161.2 521.1,162.3 521.2,159.1 521.4,159.0 521.5,167.0 521.7,161.0 521.8,166.8 521.9,160.7 522.1,160.7 522.2,161.4 522.4,162.4 522.5,167.0 522.6,163.3 522.8,167.8 522.9,164.1 523.1,171.3 523.2,166.1 523.3,171.3 523.5,165.9 523.6,167.6 523.8,171.0 523.9,166.0 524.0,162.6 524.2,165.8 524.3,166.3 524.5,165.4 524.6,163.8 524.7,161.7 524.9,163.5 525.0,169.8 525.2,169.5 525.3,167.2 525.4,171.6 525.6,169.1 525.7,169.3 525.9,167.9 526.0,173.8 526.1,172.1 526.3,167.4 526.4,170.7 526.6,169.7 526.7,167.6 526.8,172.1 527.0,171.4 527.1,166.3 527.3,167.6 527.4,173.1 527.5,164.1 527.7,171.0 527.8,171.2 528.0,169.2 528.1,167.7 528.2,167.6 528.4,164.3 528.5,162.5 528.7,171.1 528.8,164.5 528.9,167.4 529.1,159.9 529.2,161.9 529.4,165.6 529.5,168.7 529.6,160.8 529.8,165.0 529.9,164.1 530.1,168.0 530.2,161.9 530.3,167.9 530.5,164.8 530.6,161.1 530.8,164.7 530.9,165.5 531.0,168.8 531.2,162.4 531.3,171.3 531.5,159.8 531.6,165.4 531.7,172.2 531.9,165.6 532.0,167.6 532.2,168.2 532.3,168.8 532.4,172.7 532.6,167.6 532.7,174.2 532.9,166.0 533.0,165.7 533.1,164.0 533.3,164.8 533.4,167.1 533.6,170.4 533.7,168.7 533.8,166.5 534.0,165.9 534.1,167.1 534.3,166.1 534.4,164.0 534.5,165.8 534.7,170.2 534.8,165.5 535.0,164.6 535.1,160.6 535.2,166.8 535.4,160.0 535.5,167.3 535.7,164.5 535.8,165.1 535.9,158.6 536.1,160.6 536.2,162.0 536.4,162.0 536.5,156.1 536.6,166.0 536.8,166.1 536.9,155.7 537.1,151.3 537.2,165.8 537.3,159.1 537.5,160.3 537.6,161.6 537.8,160.8 537.9,160.3 538.0,166.9 538.2,165.7 538.3,172.2 538.5,167.4 538.6,174.0 538.7,169.0 538.9,168.1 539.0,166.6 539.2,169.1 539.3,164.6 539.4,164.1 539.6,172.3 539.7,169.4 539.9,170.0 540.0,165.1 540.1,166.4 540.3,164.1 540.4,164.7 540.6,166.8 540.7,164.5 540.8,169.1 541.0,171.5 541.1,170.5 541.3,163.2 541.4,163.2 541.5,167.5 541.7,171.3 541.8,168.6 542.0,163.1 542.1,163.1 542.2,163.2 542.4,167.2 542.5,162.8 542.7,164.8 542.8,162.9 542.9,168.8 543.1,168.9 543.2,156.7 543.4,161.9 543.5,166.6 543.6,163.7 543.8,164.8 543.9,161.3 544.1,159.8 544.2,167.4 544.3,163.0 544.5,162.7 544.6,162.1 544.8,160.2 544.9,169.7 545.0,170.3 545.2,164.9 545.3,164.2 545.5,172.8 545.6,172.0 545.7,172.2 545.9,165.4 546.0,170.9 546.2,166.1 546.3,169.7 546.4,162.5 546.6,165.3 546.7,160.7 546.9,162.1 547.0,159.9 547.1,159.2 547.3,158.3 547.4,157.2 547.6,152.6 547.7,149.4 547.8,157.0 548.0,149.3 548.1,152.1 548.3,155.2 548.4,152.3 548.5,153.3 548.7,156.6 548.8,154.1 549.0,151.3 549.1,147.8 549.2,137.2 549.4,140.7 549.5,141.8 549.7,144.7 549.8,133.9 549.9,132.4 550.1,134.9 550.2,129.1 550.4,124.3 550.5,127.9 550.6,135.6 550.8,133.5 550.9,137.9 551.1,131.0 551.2,127.1 551.3,121.3 551.5,119.7 551.6,118.6 551.8,114.9 551.9,113.7 552.0,121.3 552.2,117.8 552.3,115.9 552.5,113.6 552.6,119.8 552.7,114.9 552.9,118.3 553.0,108.5 553.2,115.5 553.3,121.3 553.4,118.3 553.6,114.5 553.7,118.5 553.9,111.7 554.0,121.0 554.1,113.3 554.3,119.9 554.4,119.8 554.6,127.4 554.7,112.2 554.8,112.3 555.0,112.0 555.1,121.6 555.3,123.8 555.4,128.4 555.5,122.2 555.7,116.7 555.8,107.4 556.0,120.8 556.1,111.3 556.2,116.4 556.4,127.7 556.5,129.2 556.7,131.2 556.8,128.0 556.9,130.3 557.1,129.0 557.2,124.8 557.4,131.0 557.5,135.2 557.6,136.1 557.8,125.4 557.9,139.9 558.1,132.7 558.2,144.4 558.3,154.5 558.5,147.8 558.6,124.6 558.8,128.4 558.9,126.7 559.0,134.7 559.2,139.4 559.3,144.2 559.5,147.9 559.6,151.6 559.7,158.7 559.9,156.7 560.0,149.5 560.2,161.6 560.3,158.0 560.4,151.7 560.6,152.4 560.7,153.8 560.9,145.9 561.0,155.4 561.1,144.7 561.3,144.9 561.4,140.3 561.6,143.1 561.7,148.3 561.8,145.8 562.0,145.2 562.1,147.5 562.3,152.8 562.4,142.1 562.5,137.6 562.7,138.5 562.8,124.8 563.0,135.0 563.1,146.9 563.2,141.4 563.4,140.2 563.5,144.1 563.7,143.1 563.8,145.6 563.9,150.8 564.1,155.2 564.2,151.8 564.4,154.7 564.5,145.8 564.6,148.9 564.8,142.0 564.9,146.0 565.1,146.4 565.2,142.5 565.3,141.9 565.5,150.4 565.6,153.3 565.8,147.8 565.9,149.1 566.0,142.8 566.2,141.1 566.3,147.3 566.5,134.5 566.6,141.1 566.7,150.6 566.9,147.6 567.0,158.0 567.2,159.2 567.3,152.5 567.4,154.5 567.6,152.3 567.7,156.5 567.9,149.2 568.0,150.6 568.1,139.5 568.3,142.6 568.4,138.1 568.6,144.9 568.7,138.9 568.8,144.2 569.0,138.2 569.1,149.0 569.3,140.2 569.4,141.8 569.5,142.5 569.7,141.0 569.8,138.2 570.0,143.5 570.1,136.2 570.2,135.5 570.4,140.1 570.5,148.1 570.7,139.8 570.8,136.9 570.9,139.2 571.1,141.5 571.2,152.5 571.4,152.3 571.5,146.6 571.6,152.1 571.8,145.4 571.9,136.7 572.1,142.6 572.2,141.6 572.3,138.6 572.5,140.7 572.6,143.8 572.8,145.3 572.9,137.5 573.0,134.1 573.2,136.7 573.3,151.0 573.5,147.7 573.6,154.4 573.7,146.5 573.9,136.9 574.0,137.5 574.2,138.5 574.3,142.7 574.4,141.4 574.6,148.5 574.7,145.1 574.9,148.8 575.0,140.1" stroke="#000" stroke-width="1.25"/>
<line x1="239.0" y1="162.9" x2="575.0" y2="162.9" stroke="#e3141c" stroke-width="4"/>
</g>
<g fill="none" stroke-linejoin="miter">
<polyline points="64.0,351.9 64.7,351.9 65.4,351.9 66.1,351.9 66.8,351.9 67.5,351.9 68.2,351.9 68.9,351.9 69.6,351.9 70.3,351.9 71.0,351.9 71.7,351.9 72.4,351.9 73.1,351.9 73.8,351.9 74.5,351.9 75.2,351.9 75.9,351.9 76.6,351.9 77.3,351.9 78.0,351.9 78.7,351.9 79.4,351.9 80.1,351.9 80.8,351.9 81.5,352.5 82.2,350.9 82.9,349.0 83.6,348.8 84.3,349.3 85.0,350.1 85.7,349.7 86.4,349.6 87.1,349.6 87.8,350.6 88.5,350.3 89.2,350.0 89.9,349.0 90.6,348.8 91.3,348.7 92.0,348.5 92.7,349.6 93.4,350.7 94.1,351.3 94.8,351.4 95.5,351.6 96.2,351.4 96.9,351.2 97.6,351.1 98.3,351.5 99.0,351.6 99.7,351.6 100.4,351.3 101.1,351.3 101.8,351.1 102.5,351.2 103.2,350.9 103.9,350.1 104.6,349.8 105.3,349.0 106.0,348.6 106.7,347.5 107.4,346.9 108.1,346.4 108.8,345.7 109.5,344.5 110.2,344.2 110.9,344.0 111.6,344.5 112.3,343.3 113.0,343.0 113.7,342.7 114.4,342.9 115.1,342.9 115.8,342.0 116.5,341.5 117.2,340.8 117.9,340.7 118.6,340.6 119.3,339.8 120.0,338.7 120.7,338.0 121.4,337.8 122.1,337.4 122.8,336.8 123.5,334.1 124.2,330.9 124.9,328.1 125.6,327.0 126.3,327.0 127.0,326.5 127.7,326.3 128.4,326.3 129.1,325.5 129.8,325.8 130.5,324.8 131.2,324.5 131.9,323.7 132.6,323.1 133.3,323.1 134.0,323.3 134.7,323.3 135.4,323.1 136.1,322.1 136.8,322.0 137.5,322.4 138.2,322.4 138.9,322.0 139.6,321.7 140.3,320.9 141.0,321.2 141.7,320.3 142.4,320.6 143.1,320.3 143.8,320.7 144.5,321.4 145.2,321.6 145.9,321.2 146.6,320.7 147.3,319.8 148.0,320.2 148.7,320.6 149.4,320.8 150.1,320.4 150.8,319.4 151.5,319.7 152.2,319.4 152.9,319.9 153.6,319.4 154.3,319.3 155.0,319.2 155.7,319.3 156.4,318.9 157.1,318.0 157.8,317.6 158.5,317.9 159.2,317.9 159.9,318.1 160.6,317.7 161.3,318.0 162.0,318.3 162.7,318.7 163.4,319.0 164.1,318.8 164.8,317.8 165.5,317.1 166.2,316.6 166.9,316.9 167.6,317.3 168.3,317.9 169.0,318.0 169.7,317.2 170.4,316.9 171.1,316.6 171.8,317.2 172.5,316.5 173.2,316.2 173.9,315.7 174.6,315.0 175.3,314.5 176.0,314.0 176.7,314.0 177.4,314.0 178.1,313.8 178.8,313.3 179.5,312.7 180.2,312.2 180.9,312.5 181.6,313.2 182.3,313.3 183.0,313.1 183.7,312.9 184.4,313.1 185.1,313.0 185.8,313.1 186.5,313.2 187.2,313.4 187.9,313.3 188.6,313.8 189.3,313.9 190.0,313.6 190.7,313.2 191.4,313.1 192.1,313.3 192.8,313.0 193.5,313.0 194.2,313.2 194.9,313.3 195.6,311.1 196.3,308.6 197.0,306.6 197.7,304.0 198.4,304.3 199.1,303.9 199.8,304.1 200.5,302.4 201.2,302.6 201.9,302.1 202.6,302.6 203.3,301.9 204.0,301.4 204.7,301.3 205.4,301.8 206.1,302.7 206.8,303.4 207.5,304.0 208.2,304.1 208.9,304.2 209.6,304.4 210.3,305.0 211.0,306.4 211.7,307.9 212.4,309.3 213.1,310.4 213.8,311.0 214.5,311.7 215.2,312.1 215.9,312.5 216.6,312.9 217.3,313.3 218.0,313.7 218.7,314.0 219.4,313.9 220.1,314.0 220.8,313.6 221.5,313.8 222.2,314.5 222.9,314.3 223.6,314.1 224.3,313.8 225.0,313.7 225.7,313.7 226.4,313.2 227.1,313.5 227.8,313.4 228.5,313.2 229.2,313.1 229.9,313.1 230.6,313.0 231.3,312.9 232.0,312.6 232.7,312.5 233.4,312.1 234.1,312.7 234.8,312.5 235.5,311.6 236.2,310.9 236.9,311.0 237.6,311.1 238.3,310.5 239.0,309.9 239.7,309.9 240.4,309.9 241.1,309.8 241.8,309.8 242.5,309.4 243.2,309.1 243.9,308.2 244.6,308.5 245.3,308.3 246.0,307.8 246.7,307.6 247.4,306.6 248.1,305.8 248.8,303.7 249.5,302.8 250.2,302.1 250.9,301.9 251.6,301.4 252.3,300.7 253.0,299.4 253.7,297.8 254.4,296.8 255.1,295.5 255.8,295.2 256.5,293.0 257.2,291.6 257.9,290.5 258.6,290.7 259.3,290.4 260.0,289.0 260.7,287.6 261.4,286.2 262.1,285.9 262.8,285.3 263.5,284.5 264.2,284.0 264.9,283.0 265.6,282.5 266.3,280.9 267.0,280.5 267.7,279.8 268.4,280.0 269.1,279.1 269.8,278.4 270.5,277.5 271.2,277.6 271.9,277.7 272.6,278.4 273.3,279.1 274.0,279.8 274.7,280.0 275.4,281.3 276.1,281.9 276.8,283.1 277.5,283.4 278.2,284.6 278.9,285.0 279.6,284.1 280.3,283.2 281.0,282.6 281.7,281.0 282.4,279.1 283.1,278.5 283.8,278.1 284.5,278.0 285.2,277.5 285.9,277.1 286.6,276.7 287.3,276.3 288.0,276.2 288.7,276.3 289.4,275.5 290.1,275.3 290.8,274.7 291.5,274.8 292.2,274.8 292.9,274.6 293.6,274.5 294.3,273.8 295.0,273.5 295.7,273.5 296.4,273.6 297.1,273.5 297.8,273.6 298.5,273.5 299.2,273.3 299.9,272.7 300.6,272.7 301.3,273.5 302.0,273.7 302.7,274.1 303.4,273.8 304.1,273.2 304.8,272.7 305.5,271.5 306.2,271.6 306.9,271.3 307.6,271.6 308.3,271.6 309.0,271.5 309.7,271.7 310.4,270.8 311.1,271.0 311.8,270.2 312.5,270.2 313.2,269.8 313.9,269.9 314.6,269.8 315.3,269.8 316.0,269.8 316.7,269.6 317.4,269.8 318.1,269.2 318.8,269.0 319.5,268.4 320.2,268.4 320.9,268.9 321.6,269.2 322.3,269.2 323.0,269.0 323.7,269.0 324.4,269.0 325.1,269.5 325.8,269.1 326.5,269.1 327.2,269.1 327.9,269.6 328.6,269.9 329.3,269.9 330.0,269.5 330.7,270.0 331.4,269.8 332.1,270.2 332.8,269.9 333.5,270.1 334.2,270.2 334.9,269.6 335.6,270.2 336.3,270.3 337.0,271.2 337.7,271.3 338.4,271.1 339.1,270.6 339.8,270.1 340.5,270.5 341.2,271.3 341.9,271.1 342.6,271.4 343.3,270.4 344.0,270.5 344.7,270.0 345.4,270.7 346.1,271.8 346.8,272.4 347.5,272.8 348.2,272.2 348.9,271.6 349.6,271.2 350.3,270.7 351.0,271.2 351.7,271.9 352.4,272.5 353.1,272.8 353.8,272.7 354.5,272.8 355.2,272.2 355.9,272.1 356.6,271.7 357.3,272.3 358.0,272.1 358.7,272.7 359.4,272.6 360.1,272.3 360.8,271.7 361.5,271.4 362.2,271.5 362.9,271.6 363.6,270.8 364.3,270.9 365.0,271.1 365.7,271.4 366.4,270.9 367.1,270.1 367.8,269.8 368.5,270.3 369.2,270.3 369.9,270.3 370.6,269.4 371.3,269.2 372.0,269.9 372.7,270.3 373.4,270.8 374.1,269.7 374.8,269.3 375.5,269.3 376.2,269.6 376.9,269.7 377.6,269.5 378.3,269.4 379.0,269.5 379.7,270.0 380.4,269.9 381.1,269.9 381.8,269.4 382.5,269.9 383.2,269.7 383.9,269.7 384.6,269.3 385.3,269.2 386.0,269.4 386.7,269.0 387.4,268.8 388.1,268.8 388.8,269.6 389.5,270.0 390.2,269.7 390.9,269.4 391.6,269.4 392.3,269.7 393.0,269.8 393.7,269.2 394.4,268.2 395.1,268.1 395.8,268.6 396.5,269.3 397.2,269.0 397.9,269.0 398.6,268.7 399.3,268.8 400.0,269.0 400.7,269.3 401.4,269.6 402.1,269.8 402.8,269.7 403.5,269.2 404.2,269.2 404.9,268.9 405.6,269.3 406.3,268.8 407.0,269.4 407.7,269.5 408.4,269.6 409.1,269.0 409.8,268.8 410.5,269.0 411.2,269.0 411.9,268.6 412.6,268.0 413.3,267.8 414.0,268.4 414.7,268.5 415.4,268.7 416.1,267.9 416.8,268.1 417.5,268.3 418.2,268.9 418.9,268.6 419.6,268.4 420.3,268.5 421.0,268.2 421.7,268.4 422.4,268.1 423.1,268.8 423.8,268.5 424.5,268.7 425.2,268.5 425.9,269.1 426.6,269.2 427.3,269.5 428.0,269.1 428.7,269.1 429.4,268.7 430.1,268.7 430.8,268.8 431.5,268.2 432.2,268.3 432.9,267.5 433.6,268.2 434.3,268.6 435.0,269.2 435.7,268.7 436.4,267.5 437.1,267.6 437.8,268.1 438.5,268.6 439.2,269.2 439.9,268.7 440.6,268.7 441.3,267.9 442.0,268.6 442.7,268.7 443.4,268.9 444.1,268.6 444.8,268.4 445.5,268.1 446.2,268.0 446.9,267.7 447.6,268.1 448.3,268.0 449.0,268.7 449.7,268.8 450.4,268.3 451.1,268.5 451.8,267.8 452.5,268.8 453.2,268.1 453.9,268.8 454.6,269.1 455.3,269.0 456.0,268.6 456.7,268.1 457.4,268.3 458.1,267.8 458.8,267.4 459.5,267.4 460.2,268.3 460.9,269.0 461.6,269.3 462.3,268.5 463.0,268.5 463.7,268.7 464.4,269.0 465.1,268.7 465.8,268.4 466.5,268.8 467.2,268.4 467.9,268.3 468.6,268.2 469.3,269.0 470.0,269.4 470.7,269.6 471.4,269.3 472.1,269.1 472.8,268.6 473.5,268.6 474.2,268.8 474.9,268.4 475.6,268.3 476.3,267.9 477.0,268.6 477.7,269.1 478.4,268.8 479.1,268.2 479.8,267.7 480.5,268.3 481.2,268.0 481.9,268.1 482.6,267.6 483.3,268.1 484.0,268.0 484.7,268.5 485.4,268.8 486.1,268.4 486.8,268.1 487.5,268.2 488.2,268.7 488.9,268.8 489.6,268.2 490.3,268.6 491.0,268.5 491.7,268.3 492.4,267.4 493.1,267.5 493.8,268.0 494.5,268.3 495.2,268.1 495.9,268.0 496.6,268.4 497.3,268.5 498.0,268.6 498.7,268.0 499.4,268.1 500.1,267.5 500.8,267.8 501.5,267.5 502.2,267.8 502.9,267.7 503.6,267.7 504.3,268.0 505.0,268.3 505.7,268.6 506.4,269.1 507.1,268.7 507.8,269.0 508.5,268.7 509.2,268.8 509.9,268.3 510.6,268.1 511.3,267.8 512.0,268.0 512.7,268.1 513.4,269.1 514.1,268.9 514.8,269.0 515.5,268.2 516.2,268.2 516.9,268.0 517.6,267.9 518.3,268.1 519.0,268.0 519.7,268.4 520.4,268.0 521.1,268.1 521.8,268.1 522.5,268.5 523.2,268.7 523.9,268.9 524.6,268.7 525.3,268.7 526.0,268.4 526.7,268.3 527.4,268.1 528.1,268.0 528.8,268.2 529.5,268.0 530.2,267.5 530.9,267.6 531.6,267.7 532.3,268.5 533.0,268.6 533.7,268.8 534.4,269.0 535.1,269.2 535.8,269.1 536.5,268.4 537.2,267.9 537.9,267.9 538.6,268.2 539.3,267.9 540.0,268.1 540.7,268.1 541.4,268.8 542.1,268.9 542.8,268.4 543.5,268.2 544.2,268.0 544.9,268.9 545.6,269.0 546.3,269.4 547.0,268.8 547.7,269.2 548.4,269.2 549.1,269.5 549.8,270.0 550.5,270.3 551.2,270.7 551.9,270.8 552.6,270.4 553.3,270.7 554.0,270.4 554.7,270.8 555.4,270.4 556.1,270.3 556.8,270.4 557.5,271.0 558.2,272.0 558.9,272.0 559.6,273.0 560.3,273.4 561.0,274.8 561.7,275.8 562.4,276.9 563.1,277.5 563.8,278.2 564.5,278.7 565.2,280.3 565.9,280.8 566.6,281.3 567.3,281.2 568.0,282.5 568.7,283.4 569.4,284.4 570.1,285.8 570.8,287.2 571.5,288.6 572.2,289.8 572.9,292.3 573.6,294.1 574.3,296.2 575.0,297.4" stroke="#000" stroke-width="2.4" stroke-linejoin="round"/>
<polyline points="204.0,352.5 204.0,209.5 309.0,209.5 309.0,265.8 575.0,265.8" stroke="#d8141c" stroke-width="2.4"/>
<path d="M206.2 353.0V320.2h4.6V353.0zM213.2 353.0V320.2h4.6V353.0zM220.2 353.0V320.2h4.6V353.0zM227.2 353.0V320.2h4.6V353.0zM234.2 353.0V320.2h4.6V353.0zM241.2 353.0V320.2h4.6V353.0zM248.2 353.0V320.2h4.6V353.0zM255.2 353.0V320.2h4.6V353.0zM262.2 353.0V320.2h4.6V353.0zM269.2 353.0V320.2h4.6V353.0zM276.2 353.0V320.2h4.6V353.0zM283.2 353.0V320.2h4.6V353.0zM290.2 353.0V320.2h4.6V353.0zM297.2 353.0V320.2h4.6V353.0zM304.2 353.0V320.2h4.6V353.0zM311.2 353.0V320.2h4.6V353.0zM339.2 353.0V320.2h4.6V353.0zM346.2 353.0V320.2h4.6V353.0zM353.2 353.0V320.2h4.6V353.0zM360.2 353.0V320.2h4.6V353.0zM367.2 353.0V320.2h4.6V353.0zM374.2 353.0V320.2h4.6V353.0zM381.2 353.0V320.2h4.6V353.0zM388.2 353.0V320.2h4.6V353.0zM395.2 353.0V320.2h4.6V353.0zM402.2 353.0V320.2h4.6V353.0zM409.2 353.0V320.2h4.6V353.0zM416.2 353.0V320.2h4.6V353.0zM423.2 353.0V320.2h4.6V353.0zM430.2 353.0V320.2h4.6V353.0zM437.2 353.0V320.2h4.6V353.0zM444.2 353.0V320.2h4.6V353.0zM451.2 353.0V320.2h4.6V353.0zM458.2 353.0V320.2h4.6V353.0zM465.2 353.0V320.2h4.6V353.0zM472.2 353.0V320.2h4.6V353.0zM479.2 353.0V320.2h4.6V353.0zM486.2 353.0V320.2h4.6V353.0zM493.2 353.0V320.2h4.6V353.0zM500.2 353.0V320.2h4.6V353.0zM507.2 353.0V320.2h4.6V353.0zM514.2 353.0V320.2h4.6V353.0zM521.2 353.0V320.2h4.6V353.0zM528.2 353.0V320.2h4.6V353.0zM535.2 353.0V320.2h4.6V353.0zM318.0 353.0V320.2h17.5V353.0z" fill="#0000e0" stroke="none"/>
</g>
<g clip-path="url(#cc)">
<line x1="64.0" y1="430.4" x2="575.0" y2="430.4" stroke="#0000d8" stroke-width="3.2" stroke-dasharray="7.5 8.5" stroke-dashoffset="0.4"/>
</g>
<g fill="none">
<polyline points="63.8,511.4 73.6,511.4 83.4,498.4 93.2,493.6 103.1,492.4 112.9,478.1 122.7,442.2 132.5,391.1 142.3,394.6 152.1,394.1 161.9,398.5 171.8,400.5 181.6,386.2 191.4,388.0 201.2,388.9 211.0,388.9 220.8,387.4 230.7,386.9 240.5,387.4 250.3,388.6 260.1,390.1 269.9,391.5 279.7,391.0 289.5,395.5 299.4,394.1 309.2,394.1 319.0,393.4 328.8,393.4 338.6,392.5 348.4,391.7 358.2,391.7 368.1,391.7 377.9,392.2 387.7,392.8 397.5,393.2 407.3,392.4 417.1,392.0 427.0,391.5 436.8,390.6 446.6,389.8 456.4,389.8 466.2,389.8 476.0,393.0 485.8,389.8 495.7,389.2 505.5,388.6 515.3,388.3 525.1,388.0 534.9,389.2 544.7,389.8 554.5,385.4 564.4,416.0 574.2,445.2" stroke="#000" stroke-width="2.5"/>
<ellipse cx="64.1" cy="511.8" rx="3.8" ry="4.15" stroke="#000" stroke-width="2.1"/>
<ellipse cx="73.9" cy="511.8" rx="3.8" ry="4.15" stroke="#000" stroke-width="2.1"/>
<ellipse cx="83.7" cy="498.8" rx="3.8" ry="4.15" stroke="#000" stroke-width="2.1"/>
<ellipse cx="93.5" cy="494.0" rx="3.8" ry="4.15" stroke="#000" stroke-width="2.1"/>
<ellipse cx="103.4" cy="492.8" rx="3.8" ry="4.15" stroke="#000" stroke-width="2.1"/>
<ellipse cx="113.2" cy="478.5" rx="3.8" ry="4.15" stroke="#000" stroke-width="2.1"/>
<ellipse cx="123.0" cy="442.6" rx="3.8" ry="4.15" stroke="#000" stroke-width="2.1"/>
<ellipse cx="132.8" cy="391.5" rx="3.8" ry="4.15" stroke="#000" stroke-width="2.1"/>
<ellipse cx="142.6" cy="395.0" rx="3.8" ry="4.15" stroke="#000" stroke-width="2.1"/>
<ellipse cx="152.4" cy="394.5" rx="3.8" ry="4.15" stroke="#000" stroke-width="2.1"/>
<ellipse cx="162.2" cy="398.9" rx="3.8" ry="4.15" stroke="#000" stroke-width="2.1"/>
<ellipse cx="172.1" cy="400.9" rx="3.8" ry="4.15" stroke="#000" stroke-width="2.1"/>
<ellipse cx="181.9" cy="386.6" rx="3.8" ry="4.15" stroke="#000" stroke-width="2.1"/>
<ellipse cx="191.7" cy="388.4" rx="3.8" ry="4.15" stroke="#000" stroke-width="2.1"/>
<ellipse cx="201.5" cy="389.3" rx="3.8" ry="4.15" stroke="#000" stroke-width="2.1"/>
<ellipse cx="211.3" cy="389.3" rx="3.8" ry="4.15" stroke="#000" stroke-width="2.1"/>
<ellipse cx="221.1" cy="387.8" rx="3.8" ry="4.15" stroke="#000" stroke-width="2.1"/>
<ellipse cx="231.0" cy="387.3" rx="3.8" ry="4.15" stroke="#000" stroke-width="2.1"/>
<ellipse cx="240.8" cy="387.8" rx="3.8" ry="4.15" stroke="#000" stroke-width="2.1"/>
<ellipse cx="250.6" cy="389.0" rx="3.8" ry="4.15" stroke="#000" stroke-width="2.1"/>
<ellipse cx="260.4" cy="390.5" rx="3.8" ry="4.15" stroke="#000" stroke-width="2.1"/>
<ellipse cx="270.2" cy="391.9" rx="3.8" ry="4.15" stroke="#000" stroke-width="2.1"/>
<ellipse cx="280.0" cy="391.4" rx="3.8" ry="4.15" stroke="#000" stroke-width="2.1"/>
<ellipse cx="289.8" cy="395.9" rx="3.8" ry="4.15" stroke="#000" stroke-width="2.1"/>
<ellipse cx="299.7" cy="394.5" rx="3.8" ry="4.15" stroke="#000" stroke-width="2.1"/>
<ellipse cx="309.5" cy="394.5" rx="3.8" ry="4.15" stroke="#000" stroke-width="2.1"/>
<ellipse cx="319.3" cy="393.8" rx="3.8" ry="4.15" stroke="#000" stroke-width="2.1"/>
<ellipse cx="329.1" cy="393.8" rx="3.8" ry="4.15" stroke="#000" stroke-width="2.1"/>
<ellipse cx="338.9" cy="392.9" rx="3.8" ry="4.15" stroke="#000" stroke-width="2.1"/>
<ellipse cx="348.7" cy="392.1" rx="3.8" ry="4.15" stroke="#000" stroke-width="2.1"/>
<ellipse cx="358.6" cy="392.1" rx="3.8" ry="4.15" stroke="#000" stroke-width="2.1"/>
<ellipse cx="368.4" cy="392.1" rx="3.8" ry="4.15" stroke="#000" stroke-width="2.1"/>
<ellipse cx="378.2" cy="392.6" rx="3.8" ry="4.15" stroke="#000" stroke-width="2.1"/>
<ellipse cx="388.0" cy="393.2" rx="3.8" ry="4.15" stroke="#000" stroke-width="2.1"/>
<ellipse cx="397.8" cy="393.6" rx="3.8" ry="4.15" stroke="#000" stroke-width="2.1"/>
<ellipse cx="407.6" cy="392.8" rx="3.8" ry="4.15" stroke="#000" stroke-width="2.1"/>
<ellipse cx="417.4" cy="392.4" rx="3.8" ry="4.15" stroke="#000" stroke-width="2.1"/>
<ellipse cx="427.3" cy="391.9" rx="3.8" ry="4.15" stroke="#000" stroke-width="2.1"/>
<ellipse cx="437.1" cy="391.0" rx="3.8" ry="4.15" stroke="#000" stroke-width="2.1"/>
<ellipse cx="446.9" cy="390.1" rx="3.8" ry="4.15" stroke="#000" stroke-width="2.1"/>
<ellipse cx="456.7" cy="390.1" rx="3.8" ry="4.15" stroke="#000" stroke-width="2.1"/>
<ellipse cx="466.5" cy="390.1" rx="3.8" ry="4.15" stroke="#000" stroke-width="2.1"/>
<ellipse cx="476.3" cy="393.4" rx="3.8" ry="4.15" stroke="#000" stroke-width="2.1"/>
<ellipse cx="486.1" cy="390.1" rx="3.8" ry="4.15" stroke="#000" stroke-width="2.1"/>
<ellipse cx="496.0" cy="389.6" rx="3.8" ry="4.15" stroke="#000" stroke-width="2.1"/>
<ellipse cx="505.8" cy="389.0" rx="3.8" ry="4.15" stroke="#000" stroke-width="2.1"/>
<ellipse cx="515.6" cy="388.7" rx="3.8" ry="4.15" stroke="#000" stroke-width="2.1"/>
<ellipse cx="525.4" cy="388.4" rx="3.8" ry="4.15" stroke="#000" stroke-width="2.1"/>
<ellipse cx="535.2" cy="389.6" rx="3.8" ry="4.15" stroke="#000" stroke-width="2.1"/>
<ellipse cx="545.0" cy="390.1" rx="3.8" ry="4.15" stroke="#000" stroke-width="2.1"/>
<ellipse cx="554.8" cy="385.8" rx="3.8" ry="4.15" stroke="#000" stroke-width="2.1"/>
<ellipse cx="564.7" cy="416.4" rx="3.8" ry="4.15" stroke="#000" stroke-width="2.1"/>
<ellipse cx="574.5" cy="445.6" rx="3.8" ry="4.15" stroke="#000" stroke-width="2.1"/>
<polyline points="113.0,447.0 121.0,430.9 126.4,393.2 134.0,406.4 141.0,412.1 148.0,413.5 155.0,416.9 162.0,420.0 169.0,423.9 176.0,422.1 183.0,416.9 190.0,418.1 197.0,419.6 204.0,422.0 211.0,419.9 218.0,418.1 225.0,418.0 232.0,416.9 239.0,417.1 246.0,417.4 253.0,418.2 260.0,419.8 267.0,422.9 274.0,424.5 281.0,425.6 288.0,427.0 295.0,426.5 302.0,426.4 309.0,425.6 316.0,425.6 323.0,426.6 330.0,426.9 337.0,425.9 344.0,425.5 351.0,424.8 358.0,424.9 365.0,425.6 372.0,425.6 379.0,425.8 386.0,426.6 393.0,426.4 400.0,424.8 407.0,424.9 414.0,423.8 421.0,423.8 428.0,423.7 435.0,424.6 442.0,424.7 449.0,425.0 456.0,424.9 463.0,424.9 470.0,424.9 477.0,425.8 484.0,423.9 491.0,424.2 498.0,424.4 505.0,424.7 512.0,425.2 519.0,423.7 526.0,425.0 533.0,425.6 540.0,425.1 547.0,424.8 554.0,422.6 561.5,431.8 568.0,425.6 574.0,445.2" stroke="#d4141c" stroke-width="2.5"/>
<path d="M113.3 441.9l3.5 5.4l-3.5 5.4l-3.5 -5.4z" stroke="#e60a14" stroke-width="2.1"/>
<path d="M121.3 425.8l3.5 5.4l-3.5 5.4l-3.5 -5.4z" stroke="#e60a14" stroke-width="2.1"/>
<path d="M126.7 388.1l3.5 5.4l-3.5 5.4l-3.5 -5.4z" stroke="#e60a14" stroke-width="2.1"/>
<path d="M134.3 401.3l3.5 5.4l-3.5 5.4l-3.5 -5.4z" stroke="#e60a14" stroke-width="2.1"/>
<path d="M141.3 407.0l3.5 5.4l-3.5 5.4l-3.5 -5.4z" stroke="#e60a14" stroke-width="2.1"/>
<path d="M148.3 408.4l3.5 5.4l-3.5 5.4l-3.5 -5.4z" stroke="#e60a14" stroke-width="2.1"/>
<path d="M155.3 411.8l3.5 5.4l-3.5 5.4l-3.5 -5.4z" stroke="#e60a14" stroke-width="2.1"/>
<path d="M162.3 414.9l3.5 5.4l-3.5 5.4l-3.5 -5.4z" stroke="#e60a14" stroke-width="2.1"/>
<path d="M169.3 418.8l3.5 5.4l-3.5 5.4l-3.5 -5.4z" stroke="#e60a14" stroke-width="2.1"/>
<path d="M176.3 417.0l3.5 5.4l-3.5 5.4l-3.5 -5.4z" stroke="#e60a14" stroke-width="2.1"/>
<path d="M183.3 411.8l3.5 5.4l-3.5 5.4l-3.5 -5.4z" stroke="#e60a14" stroke-width="2.1"/>
<path d="M190.3 413.0l3.5 5.4l-3.5 5.4l-3.5 -5.4z" stroke="#e60a14" stroke-width="2.1"/>
<path d="M197.3 414.5l3.5 5.4l-3.5 5.4l-3.5 -5.4z" stroke="#e60a14" stroke-width="2.1"/>
<path d="M204.3 416.9l3.5 5.4l-3.5 5.4l-3.5 -5.4z" stroke="#e60a14" stroke-width="2.1"/>
<path d="M211.3 414.8l3.5 5.4l-3.5 5.4l-3.5 -5.4z" stroke="#e60a14" stroke-width="2.1"/>
<path d="M218.3 413.0l3.5 5.4l-3.5 5.4l-3.5 -5.4z" stroke="#e60a14" stroke-width="2.1"/>
<path d="M225.3 412.9l3.5 5.4l-3.5 5.4l-3.5 -5.4z" stroke="#e60a14" stroke-width="2.1"/>
<path d="M232.3 411.8l3.5 5.4l-3.5 5.4l-3.5 -5.4z" stroke="#e60a14" stroke-width="2.1"/>
<path d="M239.3 412.0l3.5 5.4l-3.5 5.4l-3.5 -5.4z" stroke="#e60a14" stroke-width="2.1"/>
<path d="M246.3 412.3l3.5 5.4l-3.5 5.4l-3.5 -5.4z" stroke="#e60a14" stroke-width="2.1"/>
<path d="M253.3 413.1l3.5 5.4l-3.5 5.4l-3.5 -5.4z" stroke="#e60a14" stroke-width="2.1"/>
<path d="M260.3 414.7l3.5 5.4l-3.5 5.4l-3.5 -5.4z" stroke="#e60a14" stroke-width="2.1"/>
<path d="M267.3 417.8l3.5 5.4l-3.5 5.4l-3.5 -5.4z" stroke="#e60a14" stroke-width="2.1"/>
<path d="M274.3 419.4l3.5 5.4l-3.5 5.4l-3.5 -5.4z" stroke="#e60a14" stroke-width="2.1"/>
<path d="M281.3 420.5l3.5 5.4l-3.5 5.4l-3.5 -5.4z" stroke="#e60a14" stroke-width="2.1"/>
<path d="M288.3 421.9l3.5 5.4l-3.5 5.4l-3.5 -5.4z" stroke="#e60a14" stroke-width="2.1"/>
<path d="M295.3 421.4l3.5 5.4l-3.5 5.4l-3.5 -5.4z" stroke="#e60a14" stroke-width="2.1"/>
<path d="M302.3 421.3l3.5 5.4l-3.5 5.4l-3.5 -5.4z" stroke="#e60a14" stroke-width="2.1"/>
<path d="M309.3 420.5l3.5 5.4l-3.5 5.4l-3.5 -5.4z" stroke="#e60a14" stroke-width="2.1"/>
<path d="M316.3 420.5l3.5 5.4l-3.5 5.4l-3.5 -5.4z" stroke="#e60a14" stroke-width="2.1"/>
<path d="M323.3 421.5l3.5 5.4l-3.5 5.4l-3.5 -5.4z" stroke="#e60a14" stroke-width="2.1"/>
<path d="M330.3 421.8l3.5 5.4l-3.5 5.4l-3.5 -5.4z" stroke="#e60a14" stroke-width="2.1"/>
<path d="M337.3 420.8l3.5 5.4l-3.5 5.4l-3.5 -5.4z" stroke="#e60a14" stroke-width="2.1"/>
<path d="M344.3 420.4l3.5 5.4l-3.5 5.4l-3.5 -5.4z" stroke="#e60a14" stroke-width="2.1"/>
<path d="M351.3 419.6l3.5 5.4l-3.5 5.4l-3.5 -5.4z" stroke="#e60a14" stroke-width="2.1"/>
<path d="M358.3 419.8l3.5 5.4l-3.5 5.4l-3.5 -5.4z" stroke="#e60a14" stroke-width="2.1"/>
<path d="M365.3 420.5l3.5 5.4l-3.5 5.4l-3.5 -5.4z" stroke="#e60a14" stroke-width="2.1"/>
<path d="M372.3 420.5l3.5 5.4l-3.5 5.4l-3.5 -5.4z" stroke="#e60a14" stroke-width="2.1"/>
<path d="M379.3 420.7l3.5 5.4l-3.5 5.4l-3.5 -5.4z" stroke="#e60a14" stroke-width="2.1"/>
<path d="M386.3 421.5l3.5 5.4l-3.5 5.4l-3.5 -5.4z" stroke="#e60a14" stroke-width="2.1"/>
<path d="M393.3 421.3l3.5 5.4l-3.5 5.4l-3.5 -5.4z" stroke="#e60a14" stroke-width="2.1"/>
<path d="M400.3 419.6l3.5 5.4l-3.5 5.4l-3.5 -5.4z" stroke="#e60a14" stroke-width="2.1"/>
<path d="M407.3 419.8l3.5 5.4l-3.5 5.4l-3.5 -5.4z" stroke="#e60a14" stroke-width="2.1"/>
<path d="M414.3 418.7l3.5 5.4l-3.5 5.4l-3.5 -5.4z" stroke="#e60a14" stroke-width="2.1"/>
<path d="M421.3 418.7l3.5 5.4l-3.5 5.4l-3.5 -5.4z" stroke="#e60a14" stroke-width="2.1"/>
<path d="M428.3 418.6l3.5 5.4l-3.5 5.4l-3.5 -5.4z" stroke="#e60a14" stroke-width="2.1"/>
<path d="M435.3 419.5l3.5 5.4l-3.5 5.4l-3.5 -5.4z" stroke="#e60a14" stroke-width="2.1"/>
<path d="M442.3 419.6l3.5 5.4l-3.5 5.4l-3.5 -5.4z" stroke="#e60a14" stroke-width="2.1"/>
<path d="M449.3 419.9l3.5 5.4l-3.5 5.4l-3.5 -5.4z" stroke="#e60a14" stroke-width="2.1"/>
<path d="M456.3 419.8l3.5 5.4l-3.5 5.4l-3.5 -5.4z" stroke="#e60a14" stroke-width="2.1"/>
<path d="M463.3 419.8l3.5 5.4l-3.5 5.4l-3.5 -5.4z" stroke="#e60a14" stroke-width="2.1"/>
<path d="M470.3 419.8l3.5 5.4l-3.5 5.4l-3.5 -5.4z" stroke="#e60a14" stroke-width="2.1"/>
<path d="M477.3 420.7l3.5 5.4l-3.5 5.4l-3.5 -5.4z" stroke="#e60a14" stroke-width="2.1"/>
<path d="M484.3 418.8l3.5 5.4l-3.5 5.4l-3.5 -5.4z" stroke="#e60a14" stroke-width="2.1"/>
<path d="M491.3 419.1l3.5 5.4l-3.5 5.4l-3.5 -5.4z" stroke="#e60a14" stroke-width="2.1"/>
<path d="M498.3 419.3l3.5 5.4l-3.5 5.4l-3.5 -5.4z" stroke="#e60a14" stroke-width="2.1"/>
<path d="M505.3 419.6l3.5 5.4l-3.5 5.4l-3.5 -5.4z" stroke="#e60a14" stroke-width="2.1"/>
<path d="M512.3 420.1l3.5 5.4l-3.5 5.4l-3.5 -5.4z" stroke="#e60a14" stroke-width="2.1"/>
<path d="M519.3 418.6l3.5 5.4l-3.5 5.4l-3.5 -5.4z" stroke="#e60a14" stroke-width="2.1"/>
<path d="M526.3 419.9l3.5 5.4l-3.5 5.4l-3.5 -5.4z" stroke="#e60a14" stroke-width="2.1"/>
<path d="M533.3 420.5l3.5 5.4l-3.5 5.4l-3.5 -5.4z" stroke="#e60a14" stroke-width="2.1"/>
<path d="M540.3 420.0l3.5 5.4l-3.5 5.4l-3.5 -5.4z" stroke="#e60a14" stroke-width="2.1"/>
<path d="M547.3 419.6l3.5 5.4l-3.5 5.4l-3.5 -5.4z" stroke="#e60a14" stroke-width="2.1"/>
<path d="M554.3 417.5l3.5 5.4l-3.5 5.4l-3.5 -5.4z" stroke="#e60a14" stroke-width="2.1"/>
<path d="M561.8 426.6l3.5 5.4l-3.5 5.4l-3.5 -5.4z" stroke="#e60a14" stroke-width="2.1"/>
<path d="M568.3 420.5l3.5 5.4l-3.5 5.4l-3.5 -5.4z" stroke="#e60a14" stroke-width="2.1"/>
<path d="M574.3 440.1l3.5 5.4l-3.5 5.4l-3.5 -5.4z" stroke="#e60a14" stroke-width="2.1"/>
</g>
<rect x="64.0" y="30.0" width="511.0" height="157.5" fill="none" stroke="#000" stroke-width="1.8"/>
<path d="M134.0 187.5v-5.0M134.0 30.0v5.0M204.0 187.5v-5.0M204.0 30.0v5.0M274.0 187.5v-5.0M274.0 30.0v5.0M344.0 187.5v-5.0M344.0 30.0v5.0M414.0 187.5v-5.0M414.0 30.0v5.0M484.0 187.5v-5.0M484.0 30.0v5.0M554.0 187.5v-5.0M554.0 30.0v5.0M64.0 156.0h5.0M575.0 156.0h-5.0M64.0 124.5h5.0M575.0 124.5h-5.0M64.0 93.0h5.0M575.0 93.0h-5.0M64.0 61.5h5.0M575.0 61.5h-5.0" stroke="#000" stroke-width="1.5" fill="none"/>
<text transform="translate(58.2,194.8) scale(1.1,1)" font-size="16.6" text-anchor="end">0</text>
<text transform="translate(58.2,162.5) scale(1.1,1)" font-size="16.6" text-anchor="end">10</text>
<text transform="translate(58.2,131.0) scale(1.1,1)" font-size="16.6" text-anchor="end">20</text>
<text transform="translate(58.2,99.5) scale(1.1,1)" font-size="16.6" text-anchor="end">30</text>
<text transform="translate(58.2,68.0) scale(1.1,1)" font-size="16.6" text-anchor="end">40</text>
<text transform="translate(58.2,36.5) scale(1.1,1)" font-size="16.6" text-anchor="end">50</text>
<rect x="64.0" y="195.5" width="511.0" height="157.0" fill="none" stroke="#000" stroke-width="1.8"/>
<path d="M134.0 352.5v-5.0M134.0 195.5v5.0M204.0 352.5v-5.0M204.0 195.5v5.0M274.0 352.5v-5.0M274.0 195.5v5.0M344.0 352.5v-5.0M344.0 195.5v5.0M414.0 352.5v-5.0M414.0 195.5v5.0M484.0 352.5v-5.0M484.0 195.5v5.0M554.0 352.5v-5.0M554.0 195.5v5.0M64.0 295.3h5.0M575.0 295.3h-5.0M64.0 238.1h5.0M575.0 238.1h-5.0" stroke="#000" stroke-width="1.5" fill="none"/>
<text transform="translate(58.2,359.8) scale(1.1,1)" font-size="16.6" text-anchor="end">0</text>
<text transform="translate(58.2,301.8) scale(1.1,1)" font-size="16.6" text-anchor="end">2</text>
<text transform="translate(58.2,244.6) scale(1.1,1)" font-size="16.6" text-anchor="end">4</text>
<rect x="64.0" y="360.0" width="511.0" height="157.5" fill="none" stroke="#000" stroke-width="1.8"/>
<path d="M134.0 517.5v-5.0M134.0 360.0v5.0M204.0 517.5v-5.0M204.0 360.0v5.0M274.0 517.5v-5.0M274.0 360.0v5.0M344.0 517.5v-5.0M344.0 360.0v5.0M414.0 517.5v-5.0M414.0 360.0v5.0M484.0 517.5v-5.0M484.0 360.0v5.0M554.0 517.5v-5.0M554.0 360.0v5.0M64.0 473.8h5.0M575.0 473.8h-5.0M64.0 430.0h5.0M575.0 430.0h-5.0M64.0 386.2h5.0M575.0 386.2h-5.0" stroke="#000" stroke-width="1.5" fill="none"/>
<text transform="translate(58.2,524.8) scale(1.1,1)" font-size="16.6" text-anchor="end">0</text>
<text transform="translate(58.2,480.2) scale(1.1,1)" font-size="16.6" text-anchor="end">50</text>
<text transform="translate(58.2,436.5) scale(1.1,1)" font-size="16.6" text-anchor="end">100</text>
<text transform="translate(58.2,392.8) scale(1.1,1)" font-size="16.6" text-anchor="end">150</text>
<line x1="63.0" y1="353" x2="575.0" y2="353" stroke="#0000e0" stroke-width="3"/>
<line x1="63.0" y1="351.3" x2="102" y2="351.3" stroke="#00008c" stroke-width="2.4"/>
<text transform="translate(63.6,538.8) scale(1.1,1)" font-size="16.6" text-anchor="middle">1</text>
<text transform="translate(133.6,538.8) scale(1.1,1)" font-size="16.6" text-anchor="middle">2</text>
<text transform="translate(203.6,538.8) scale(1.1,1)" font-size="16.6" text-anchor="middle">3</text>
<text transform="translate(273.6,538.8) scale(1.1,1)" font-size="16.6" text-anchor="middle">4</text>
<text transform="translate(343.6,538.8) scale(1.1,1)" font-size="16.6" text-anchor="middle">5</text>
<text transform="translate(413.6,538.8) scale(1.1,1)" font-size="16.6" text-anchor="middle">6</text>
<text transform="translate(483.6,538.8) scale(1.1,1)" font-size="16.6" text-anchor="middle">7</text>
<text transform="translate(553.6,538.8) scale(1.1,1)" font-size="16.6" text-anchor="middle">8</text>
<text transform="translate(168.5,25.2) scale(1.1,1)" font-size="19" text-anchor="middle" font-weight="bold">EAST#87887</text>
<text transform="translate(85.5,51.5) scale(1.1,1)" font-size="21" font-weight="bold">(a)</text>
<text transform="translate(85.5,226.5) scale(1.1,1)" font-size="21" font-weight="bold">(b)</text>
<text transform="translate(85.5,388) scale(1.1,1)" font-size="21" font-weight="bold">(c)</text>
<text transform="translate(318.4,558.7) scale(1.09,1)" font-size="18" text-anchor="middle" font-weight="bold">Time (s)</text>
<text transform="translate(22,109) rotate(-90)" font-size="19" text-anchor="middle" font-weight="bold">T<tspan font-size="15" dy="10.3" dx="0.5">et</tspan><tspan dy="-10.3" dx="-0.3"> (eV)</tspan></text>
<text transform="translate(25,275.4) rotate(-90)" font-size="19.6" text-anchor="middle" font-weight="bold">AXUV (a.u.)</text>
<text transform="translate(299.3,314) scale(1.065,1)" font-size="24.5" font-weight="bold" fill="#0000cd">50% Neon</text>
<line x1="408.5" y1="50.6" x2="446.5" y2="50.6" stroke="#4fe84f" stroke-width="1.3"/>
<line x1="408.5" y1="73.4" x2="446.5" y2="73.4" stroke="#000" stroke-width="1.2"/>
<line x1="408.5" y1="100.4" x2="446.5" y2="100.4" stroke="#e3141c" stroke-width="3.8"/>
<text transform="translate(452,57.5) scale(1.1,1)" font-size="16.6">Ch10@PortD</text>
<text transform="translate(452,80.5) scale(1.1,1)" font-size="16.6">Ch23@PortO</text>
<text transform="translate(452,104.6) scale(1.02,1)" font-size="16.8">T<tspan font-size="13.8" dy="8.7" dx="0.8">et</tspan><tspan dy="-8.7" dx="-0.3"> target</tspan></text>
<line x1="396.5" y1="216.5" x2="433.5" y2="216.5" stroke="#000" stroke-width="2.2"/>
<line x1="396.5" y1="240" x2="433.5" y2="240" stroke="#e3141c" stroke-width="2"/>
<text transform="translate(439,222.3) scale(1.1,1)" font-size="16.6">AXUV59 (a.u.)</text>
<text transform="translate(439,245.8) scale(1.1,1)" font-size="16.6">AXUV59 target</text>
<line x1="433" y1="463.6" x2="471.8" y2="463.6" stroke="#000" stroke-width="2.7"/>
<ellipse cx="452.6" cy="463.7" rx="3.8" ry="4.15" fill="none" stroke="#000" stroke-width="2.1"/>
<line x1="433" y1="494" x2="471.8" y2="494" stroke="#d4141c" stroke-width="2.7"/>
<path d="M452.5 488.6l3.5 5.4l-3.5 5.4l-3.5 -5.4z" fill="none" stroke="#e60a14" stroke-width="2.1"/>
<text transform="translate(476,467.6) scale(1.02,1)" font-size="16.8">W<tspan font-size="13.8" dy="8.7" dx="0.3">MHD</tspan><tspan dy="-8.7" dx="-0.3"> (kJ)</tspan></text>
<text transform="translate(476,498) scale(1.02,1)" font-size="16.8">H<tspan font-size="13.8" dy="8.7" dx="0.8">98,y2</tspan><tspan dy="-8.7" dx="-0.3">x100</tspan></text>
</svg>
</body></html>
